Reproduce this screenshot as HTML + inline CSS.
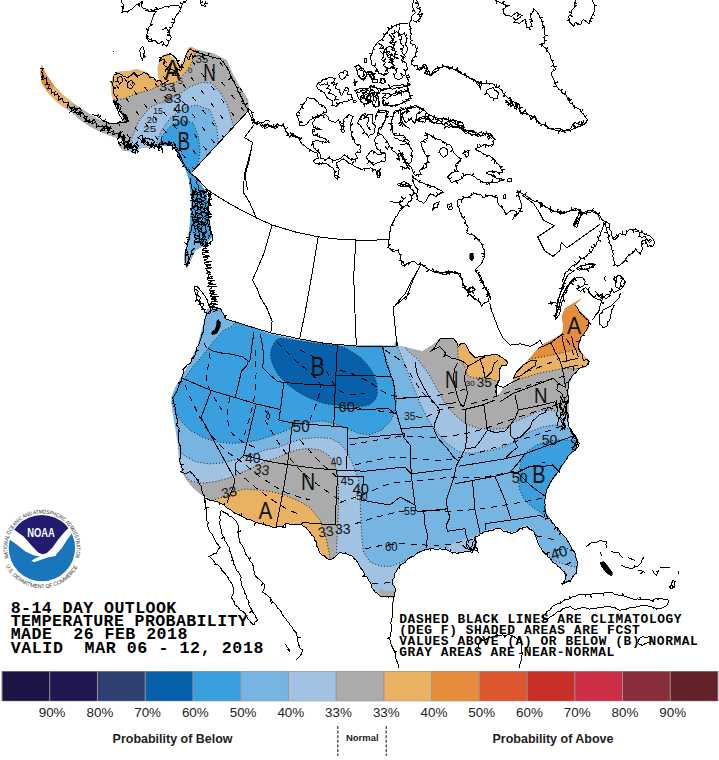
<!DOCTYPE html>
<html lang="en">
<head>
<meta charset="utf-8">
<title>8-14 Day Outlook Temperature Probability</title>
<style>
html,body{margin:0;padding:0;background:#fff;}
body{width:719px;height:760px;overflow:hidden;position:relative;font-family:"Liberation Sans",sans-serif;}
svg{position:absolute;left:0;top:0;display:block;}
.mono{font-family:"Liberation Mono",monospace;font-weight:bold;fill:#000;}
.lbl{font-family:"Liberation Sans",sans-serif;fill:#222;}
.cl{font-family:"Liberation Sans",sans-serif;fill:#111;}
</style>
</head>
<body>
<svg width="719" height="760" viewBox="0 0 719 760">
<rect x="0" y="0" width="719" height="760" fill="#ffffff"/>
<g id="fills">
<defs><clipPath id="cpUS"><path d="M206.2 311.2L203.0 325.0L197.5 345.0L190.0 362.5L182.0 375.0L175.0 387.5L171.2 397.5L171.3 403.0L173.0 415.0L175.8 431.7L178.3 448.0L179.0 461.7L181.7 471.7L186.7 480.0L193.3 488.0L201.7 495.0L213.3 500.8L222.5 503.8L232.5 511.2L245.0 518.0L257.5 523.0L272.5 527.0L281.2 527.0L285.0 523.8L301.2 523.8L307.5 530.0L313.8 537.5L318.0 547.5L322.5 555.0L330.0 559.5L335.0 557.5L340.0 552.5L352.5 556.2L358.0 563.0L363.8 572.5L370.0 582.0L375.0 592.0L380.0 595.8L393.8 597.5L396.2 590.0L393.0 582.0L395.0 573.8L401.2 565.0L410.0 557.5L420.0 552.0L427.5 549.2L440.0 548.0L447.5 550.0L457.5 552.5L466.2 551.2L475.0 550.0L477.0 542.5L475.0 537.0L481.2 532.5L490.0 530.0L497.5 528.0L506.2 530.8L512.5 532.5L517.0 530.8L520.0 528.0L527.5 525.5L532.5 530.0L537.0 537.5L540.0 546.2L545.0 552.5L552.0 560.0L557.5 566.2L565.0 572.0L566.2 578.0L562.0 584.5L570.0 581.2L577.0 572.5L578.0 562.5L575.0 552.5L568.0 541.2L560.0 531.2L552.0 522.0L546.2 512.5L545.0 500.0L547.0 490.0L552.5 480.0L560.0 470.0L568.3 456.7L576.7 448.3L578.6 440.0L569.0 426.7L568.5 415.0L568.3 398.3L568.3 385.0L573.3 375.0L580.0 368.3L586.7 366.7L590.0 361.7L583.3 355.0L578.3 346.7L581.7 336.7L588.3 328.3L589.2 320.0L581.7 313.3L575.0 305.0L581.7 298.3L571.7 304.2L565.0 308.3L561.7 316.7L563.3 325.0L562.5 333.3L555.0 338.3L545.0 343.3L538.3 348.3L528.3 360.0L520.0 368.3L514.2 375.0L512.5 381.7L511.7 384.2L503.3 388.3L500.0 393.3L496.7 396.7L495.8 391.7L496.7 385.0L499.2 380.0L499.2 370.0L501.7 365.8L506.7 365.8L507.5 361.7L503.3 358.3L496.7 354.2L485.0 355.8L475.0 357.5L469.2 351.7L465.8 344.2L460.8 343.3L458.3 345.0L453.3 338.3L440.0 338.3L435.0 343.3L430.0 346.7L422.5 351.2L406.2 347.5L398.0 345.5L396.2 340.0L393.8 345.5L340.0 345.5L300.0 340.0L270.0 333.8L245.0 325.0L226.2 318.8L223.5 313.0L220.5 308.6L207.0 308.4Z"/></clipPath></defs>
<g clip-path="url(#cpUS)">
<rect x="150" y="290" width="460" height="320" fill="#76b5e2"/>
<path d="M165.0 440.0L177.5 446.7L183.3 455.0L195.0 461.7L210.0 464.0L225.0 462.5L238.3 459.0L251.7 455.0L265.0 450.0L278.3 447.5L288.3 443.3L301.7 439.0L316.7 437.5L330.0 438.3L340.0 443.3L346.7 451.7L351.7 461.7L355.0 470.0L358.3 478.3L360.0 493.3L360.5 510.0L361.0 520.0L362.0 540.0L363.5 552.0L370.0 562.0L380.0 566.0L390.0 566.5L401.0 562.5L412.0 556.0L420.0 575.0L400.0 612.0L330.0 600.0L250.0 545.0L180.0 510.0L160.0 470.0Z" fill="#a1c2e3"/>
<path d="M396.0 335.0L397.5 346.7L405.0 365.0L413.3 386.7L420.0 403.3L428.3 420.0L436.7 431.7L446.7 443.3L458.3 451.7L471.7 453.8L482.0 451.5L493.3 450.0L506.7 445.8L518.3 438.3L530.0 431.7L543.3 426.7L555.0 425.0L566.7 428.3L580.0 434.0L600.0 420.0L600.0 330.0Z" fill="#a1c2e3"/>
<path d="M545.0 556.0L552.0 559.5L560.0 563.0L570.0 566.0L582.0 568.0L590.0 590.0L555.0 595.0L540.0 575.0Z" fill="#a1c2e3"/>
<path d="M449.0 546.0L458.0 541.0L468.0 538.0L476.0 536.0L482.0 545.0L478.0 556.0L455.0 558.0L446.0 552.0Z" fill="#a1c2e3"/>
<path d="M236.0 322.0L231.8 326.4L223.4 330.6L212.3 343.0L202.6 355.6L192.8 366.8L185.9 376.5L178.9 386.0L174.2 394.6L171.9 402.0L175.0 411.0L181.7 421.7L190.0 430.0L201.7 436.7L215.0 441.7L231.7 443.3L245.0 442.5L258.3 440.0L271.7 435.8L285.0 431.0L296.7 425.5L308.3 422.5L321.7 420.8L333.3 423.3L346.7 428.3L358.3 433.3L370.0 434.8L381.7 430.0L390.0 421.7L394.8 412.6L396.9 398.0L393.7 385.5L388.5 366.7L382.3 345.9L381.0 335.0L300.0 320.0Z" fill="#3a9fde"/>
<path d="M590.0 442.0L578.0 440.5L566.7 440.0L556.7 440.0L546.7 441.7L536.7 445.0L526.7 451.7L520.8 461.7L518.3 475.0L519.2 488.3L523.3 498.3L530.0 505.0L537.0 510.0L545.0 516.0L556.0 521.0L580.0 500.0L600.0 460.0Z" fill="#3a9fde"/>
<path d="M280.0 338.6C283.8 338.1 290.4 339.7 296.7 340.6C303.0 341.5 310.6 342.9 317.6 343.8C324.6 344.7 333.3 344.9 338.5 345.9C343.7 346.9 345.1 347.9 348.9 350.0C352.7 352.1 357.6 354.9 361.4 358.4C365.2 361.9 369.2 366.4 371.8 370.9C374.4 375.4 376.3 381.0 377.0 385.5C377.7 390.0 377.6 394.7 376.0 398.0C374.4 401.3 371.2 403.9 367.7 405.3C364.2 406.7 359.9 406.3 355.0 406.3C350.1 406.3 343.2 405.8 338.0 405.3C332.8 404.8 328.6 404.4 323.8 403.2C319.0 402.0 314.1 400.2 309.2 398.0C304.3 395.8 299.1 392.8 294.6 389.7C290.1 386.6 285.5 383.0 282.0 379.2C278.5 375.4 275.7 370.9 273.8 366.7C271.9 362.5 270.6 358.0 270.6 354.2C270.6 350.4 272.2 346.4 273.8 343.8C275.4 341.2 276.2 339.1 280.0 338.6Z" fill="#0760a9"/>
<path d="M170.0 470.0L183.3 473.3L190.0 480.8L201.7 483.3L215.0 481.7L228.3 478.3L240.0 473.3L251.7 468.3L265.0 461.7L278.3 457.5L285.0 454.0L296.7 450.0L308.3 448.3L320.0 450.0L328.3 455.0L333.3 461.7L336.7 470.0L338.3 483.3L338.6 500.0L338.0 520.0L337.0 540.0L336.0 562.0L330.0 580.0L250.0 545.0L180.0 505.0L165.0 480.0Z" fill="#ababab"/>
<path d="M403.0 335.0L405.8 349.0L418.3 360.0L428.3 373.3L436.7 388.3L445.0 403.3L455.0 415.0L465.0 423.3L478.3 428.3L493.3 429.2L505.0 428.3L513.3 422.5L526.7 416.7L540.0 410.8L550.0 410.0L558.3 411.7L568.3 415.0L582.0 419.0L600.0 400.0L600.0 330.0Z" fill="#ababab"/>
<path d="M380.0 588.0L384.0 590.5L390.0 591.0L398.0 589.0L400.0 600.0L378.0 600.0Z" fill="#ababab"/>
<path d="M200.0 503.0L213.3 500.0L223.3 496.7L235.0 491.7L245.0 489.0L258.3 490.0L271.7 491.7L285.0 495.0L300.0 501.7L310.0 507.5L320.0 520.0L326.0 537.5L329.0 552.0L331.0 565.0L322.0 575.0L300.0 545.0L250.0 540.0L200.0 512.0Z" fill="#e9b263"/>
<path d="M505.0 385.0L512.5 381.7L525.0 377.5L538.3 373.3L551.7 370.8L563.3 368.3L573.3 369.0L580.0 368.3L597.0 367.0L600.0 290.0L540.0 300.0L505.0 370.0Z" fill="#e9b263"/>
<path d="M520.0 362.0L530.8 359.0L543.3 356.7L556.7 354.0L570.0 350.8L580.0 348.3L597.0 344.0L600.0 290.0L540.0 300.0Z" fill="#e68d3d"/>
<path d="M457.5 338.0L458.0 358.0L463.0 363.0L466.0 370.0L467.0 375.0L473.0 378.0L480.0 377.5L486.0 378.0L493.0 380.0L500.0 382.0L515.0 366.0L512.0 350.0L470.0 336.0Z" fill="#e9b263"/>
</g>
</g>
<g id="fills_ak">
<defs><clipPath id="cpAK"><path d="M41.3 65.0L46.7 75.0L55.0 86.7L63.3 95.0L73.3 103.3L85.0 110.8L96.7 118.3L106.7 122.5L116.7 123.3L123.3 120.8L121.7 115.0L116.7 106.7L114.0 100.8L111.7 95.0L111.3 83.3L113.3 75.0L118.3 71.7L130.0 70.8L136.7 69.0L145.0 71.7L150.0 75.0L155.0 80.0L159.0 81.0L157.5 68.0L160.0 58.0L166.7 53.0L173.0 58.0L180.0 65.0L185.0 58.0L188.0 48.0L191.7 46.7L195.0 49.0L213.3 53.3L226.7 60.0L232.5 73.3L240.0 86.7L248.3 100.0L249.0 108.3L249.0 110.0L191.5 172.5L197.4 179.5L206.6 192.6L209.0 216.0L212.0 237.0L205.0 245.0L195.0 250.5L190.0 262.0L187.0 268.0L184.0 262.0L184.0 256.0L187.0 245.0L189.5 229.5L191.5 200.5L189.0 179.5L186.0 170.0L180.0 160.0L176.0 150.0L170.0 145.0L160.0 146.0L150.0 147.5L140.0 148.3L135.0 151.7L123.3 150.8L118.3 145.8L123.3 141.7L120.0 139.0L110.0 135.8L100.0 131.7L90.0 126.7L80.0 120.0L71.7 112.5L63.3 106.7L58.3 103.3L48.3 93.3L41.7 83.3L40.3 73.3Z"/></clipPath></defs>
<g clip-path="url(#cpAK)">
<rect x="30" y="30" width="230" height="250" fill="#ababab"/>
<path d="M105.0 102.0L108.0 101.0L113.3 100.0L123.3 99.0L133.3 95.0L140.0 92.5L150.0 90.0L156.7 86.7L163.0 85.0L170.0 84.0L176.7 81.7L185.0 73.0L191.7 63.0L195.0 53.0L196.0 44.0L150.0 35.0L100.0 60.0L100.0 100.0Z" fill="#e9b263"/>
<path d="M30.0 50.0L62.0 80.0L44.0 95.0L30.0 95.0Z" fill="#e68d3d"/>
<path d="M62.0 80.0L82.0 98.0L61.5 109.5L44.0 95.0Z" fill="#e9b263"/>
<path d="M128.0 150.0L131.7 138.3L135.0 130.0L138.3 121.7L145.0 113.3L150.0 107.5L158.0 103.5L166.7 101.7L178.0 95.0L190.0 86.7L201.7 82.5L211.7 83.0L220.0 91.7L226.7 103.0L230.8 116.7L233.0 125.0L238.0 131.0L191.0 172.5L230.0 200.0L230.0 280.0L170.0 280.0L175.0 180.0L128.0 165.0Z" fill="#a1c2e3"/>
<path d="M155.0 152.0L157.0 141.0L161.7 130.0L170.0 118.3L183.3 108.3L196.7 105.0L210.0 110.0L216.7 126.7L218.3 141.7L222.0 150.0L191.0 172.5L175.0 172.0L150.0 160.0Z" fill="#76b5e2"/>
<path d="M158.0 152.0L160.0 143.0L162.5 135.5L170.0 126.7L183.3 120.0L193.3 123.3L198.3 136.7L200.0 150.0L199.0 160.0L195.5 169.0L200.0 176.0L215.0 190.0L220.0 240.0L200.0 280.0L175.0 280.0L185.0 200.0L180.0 172.0Z" fill="#3a9fde"/>
<path d="M178.0 228.0L190.0 231.0L198.0 240.0L204.0 248.0L188.0 272.0L178.0 262.0Z" fill="#76b5e2"/>
<path d="M184.0 256.0L190.0 258.0L191.0 270.0L183.0 270.0Z" fill="#ababab"/>
</g></g>
<g id="contours" fill="none" stroke="#1a1a1a">
<g clip-path="url(#cpUS)" stroke-width="1" stroke-dasharray="1 2.1">
<path d="M165.0 440.0L177.5 446.7L183.3 455.0L195.0 461.7L210.0 464.0L225.0 462.5L238.3 459.0L251.7 455.0L265.0 450.0L278.3 447.5L288.3 443.3L301.7 439.0L316.7 437.5L330.0 438.3L340.0 443.3L346.7 451.7L351.7 461.7L355.0 470.0L358.3 478.3L360.0 493.3L360.5 510.0L361.0 520.0L362.0 540.0L363.5 552.0L370.0 562.0L380.0 566.0L390.0 566.5L401.0 562.5L412.0 556.0"/>
<path d="M396.0 335.0L397.5 346.7L405.0 365.0L413.3 386.7L420.0 403.3L428.3 420.0L436.7 431.7L446.7 443.3L458.3 451.7L471.7 453.8L482.0 451.5L493.3 450.0L506.7 445.8L518.3 438.3L530.0 431.7L543.3 426.7L555.0 425.0L566.7 428.3L580.0 434.0"/>
<path d="M236.0 322.0L231.8 326.4L223.4 330.6L212.3 343.0L202.6 355.6L192.8 366.8L185.9 376.5L178.9 386.0L174.2 394.6L171.9 402.0L175.0 411.0L181.7 421.7L190.0 430.0L201.7 436.7L215.0 441.7L231.7 443.3L245.0 442.5L258.3 440.0L271.7 435.8L285.0 431.0L296.7 425.5L308.3 422.5L321.7 420.8L333.3 423.3L346.7 428.3L358.3 433.3L370.0 434.8L381.7 430.0L390.0 421.7L394.8 412.6L396.9 398.0L393.7 385.5L388.5 366.7L382.3 345.9L381.0 335.0"/>
<path d="M590.0 442.0L578.0 440.5L566.7 440.0L556.7 440.0L546.7 441.7L536.7 445.0L526.7 451.7L520.8 461.7L518.3 475.0L519.2 488.3L523.3 498.3L530.0 505.0L537.0 510.0L545.0 516.0L556.0 521.0"/>
<path d="M170.0 470.0L183.3 473.3L190.0 480.8L201.7 483.3L215.0 481.7L228.3 478.3L240.0 473.3L251.7 468.3L265.0 461.7L278.3 457.5L285.0 454.0L296.7 450.0L308.3 448.3L320.0 450.0L328.3 455.0L333.3 461.7L336.7 470.0L338.3 483.3L338.6 500.0L338.0 520.0L337.0 540.0L336.0 562.0"/>
<path d="M200.0 503.0L213.3 500.0L223.3 496.7L235.0 491.7L245.0 489.0L258.3 490.0L271.7 491.7L285.0 495.0L300.0 501.7L310.0 507.5L320.0 520.0L326.0 537.5L329.0 552.0L331.0 565.0"/>
<path d="M403.0 335.0L405.8 349.0L418.3 360.0L428.3 373.3L436.7 388.3L445.0 403.3L455.0 415.0L465.0 423.3L478.3 428.3L493.3 429.2L505.0 428.3L513.3 422.5L526.7 416.7L540.0 410.8L550.0 410.0L558.3 411.7L568.3 415.0L582.0 419.0"/>
<path d="M505.0 385.0L512.5 381.7L525.0 377.5L538.3 373.3L551.7 370.8L563.3 368.3L573.3 369.0L580.0 368.3L597.0 367.0"/>
<path d="M520.0 362.0L530.8 359.0L543.3 356.7L556.7 354.0L570.0 350.8L580.0 348.3L597.0 344.0"/>
<path d="M457.5 338.0L458.0 358.0L463.0 363.0L466.0 370.0L467.0 375.0L473.0 378.0L480.0 377.5L486.0 378.0L493.0 380.0L500.0 382.0"/>
<path d="M545.0 556.0L552.0 559.5L560.0 563.0L570.0 566.0L582.0 568.0"/>
<path d="M280.0 338.6C283.8 338.1 290.4 339.7 296.7 340.6C303.0 341.5 310.6 342.9 317.6 343.8C324.6 344.7 333.3 344.9 338.5 345.9C343.7 346.9 345.1 347.9 348.9 350.0C352.7 352.1 357.6 354.9 361.4 358.4C365.2 361.9 369.2 366.4 371.8 370.9C374.4 375.4 376.3 381.0 377.0 385.5C377.7 390.0 377.6 394.7 376.0 398.0C374.4 401.3 371.2 403.9 367.7 405.3C364.2 406.7 359.9 406.3 355.0 406.3C350.1 406.3 343.2 405.8 338.0 405.3C332.8 404.8 328.6 404.4 323.8 403.2C319.0 402.0 314.1 400.2 309.2 398.0C304.3 395.8 299.1 392.8 294.6 389.7C290.1 386.6 285.5 383.0 282.0 379.2C278.5 375.4 275.7 370.9 273.8 366.7C271.9 362.5 270.6 358.0 270.6 354.2C270.6 350.4 272.2 346.4 273.8 343.8C275.4 341.2 276.2 339.1 280.0 338.6Z"/>
</g>
<g clip-path="url(#cpAK)" stroke-width="1" stroke-dasharray="1 2.1">
<path d="M105.0 102.0L108.0 101.0L113.3 100.0L123.3 99.0L133.3 95.0L140.0 92.5L150.0 90.0L156.7 86.7L163.0 85.0L170.0 84.0L176.7 81.7L185.0 73.0L191.7 63.0L195.0 53.0L196.0 44.0"/>
<path d="M128.0 150.0L131.7 138.3L135.0 130.0L138.3 121.7L145.0 113.3L150.0 107.5L158.0 103.5L166.7 101.7L178.0 95.0L190.0 86.7L201.7 82.5L211.7 83.0L220.0 91.7L226.7 103.0L230.8 116.7L233.0 125.0L238.0 131.0"/>
<path d="M155.0 152.0L157.0 141.0L161.7 130.0L170.0 118.3L183.3 108.3L196.7 105.0L210.0 110.0L216.7 126.7L218.3 141.7L222.0 150.0"/>
<path d="M158.0 152.0L160.0 143.0L162.5 135.5L170.0 126.7L183.3 120.0L193.3 123.3L198.3 136.7L200.0 150.0L199.0 160.0L195.5 169.0"/>
</g>
<g clip-path="url(#cpUS)" stroke="#000" stroke-width="1" stroke-dasharray="6 5.5" shape-rendering="crispEdges">
<path d="M340.0 502.5C344.2 501.0 356.7 496.9 365.0 493.8C373.3 490.6 381.7 485.8 390.0 483.8C398.3 481.7 405.0 482.3 415.0 481.2C425.0 480.2 439.2 478.1 450.0 477.5C460.8 476.9 468.3 478.8 480.0 477.5C491.7 476.2 509.2 472.6 520.0 470.0C530.8 467.4 540.8 463.3 545.0 462.0"/>
<path d="M355.0 523.8C359.2 522.5 372.1 518.3 380.0 516.2C387.9 514.2 395.4 512.3 402.5 511.2C409.6 510.2 414.6 510.0 422.5 510.0C430.4 510.0 440.4 511.5 450.0 511.2C459.6 511.0 468.3 510.2 480.0 508.8C491.7 507.3 508.7 504.5 520.0 502.5C531.3 500.5 543.3 497.9 548.0 497.0"/>
<path d="M365.0 548.8C368.3 548.1 378.3 545.8 385.0 545.0C391.7 544.2 398.3 543.8 405.0 543.8C411.7 543.8 418.3 544.8 425.0 545.0C431.7 545.2 437.5 545.8 445.0 545.0C452.5 544.2 460.8 541.5 470.0 540.0C479.2 538.5 490.0 536.8 500.0 536.0C510.0 535.2 520.8 534.3 530.0 535.0C539.2 535.7 550.8 539.2 555.0 540.0"/>
<path d="M372.5 583.8L393.8 582.5"/>
<path d="M355.0 407.5C360.8 408.3 382.9 411.5 390.0 412.5C397.1 413.5 396.2 413.5 397.5 413.8"/>
<path d="M416.0 416.5C417.5 416.7 421.0 418.6 425.0 417.5C429.0 416.4 433.3 412.1 440.0 410.0C446.7 407.9 457.5 406.7 465.0 405.0C472.5 403.3 476.7 402.5 485.0 400.0C493.3 397.5 505.8 393.0 515.0 390.0C524.2 387.0 531.7 384.3 540.0 382.0C548.3 379.7 560.8 377.0 565.0 376.0"/>
<path d="M350.0 445.0C354.6 444.2 368.3 441.5 377.5 440.0C386.7 438.5 395.8 436.7 405.0 436.2C414.2 435.8 423.8 437.7 432.5 437.5C441.2 437.3 449.6 436.2 457.5 435.0C465.4 433.8 471.2 432.5 480.0 430.0C488.8 427.5 500.0 423.3 510.0 420.0C520.0 416.7 530.7 413.0 540.0 410.0C549.3 407.0 561.7 403.3 566.0 402.0"/>
<path d="M355.0 465.0C360.8 463.8 380.0 458.5 390.0 457.5C400.0 456.5 405.8 458.3 415.0 458.8C424.2 459.2 435.8 460.6 445.0 460.0C454.2 459.4 461.7 457.1 470.0 455.0C478.3 452.9 486.7 450.0 495.0 447.5C503.3 445.0 511.7 442.6 520.0 440.0C528.3 437.4 537.0 434.7 545.0 432.0C553.0 429.3 564.2 425.3 568.0 424.0"/>
<path d="M385.0 350.0C387.9 352.1 397.9 357.9 402.5 362.5C407.1 367.1 409.2 372.5 412.5 377.5C415.8 382.5 418.6 387.9 422.5 392.5C426.4 397.1 433.8 402.9 436.0 405.0"/>
<path d="M340.0 370.0C342.5 370.8 350.0 372.9 355.0 375.0C360.0 377.1 364.2 379.2 370.0 382.5C375.8 385.8 382.5 392.5 390.0 395.0C397.5 397.5 406.7 397.5 415.0 397.5C423.3 397.5 430.8 396.6 440.0 395.0C449.2 393.4 465.0 389.2 470.0 388.0"/>
<path d="M300.0 350.0C303.3 352.0 313.3 355.2 320.0 362.0C326.7 368.8 332.5 385.7 340.0 391.0C347.5 396.3 360.8 393.3 365.0 393.8"/>
<path d="M203.8 342.5C204.8 345.0 209.6 352.1 210.0 357.5C210.4 362.9 206.0 369.6 206.0 375.0C206.0 380.4 207.3 384.2 210.0 390.0C212.7 395.8 220.0 406.7 222.0 410.0"/>
<path d="M185.0 385.0C186.7 388.8 191.2 400.0 195.0 407.5C198.8 415.0 202.5 422.9 207.5 430.0C212.5 437.1 219.2 444.6 225.0 450.0C230.8 455.4 236.3 457.8 242.5 462.5C248.7 467.2 254.9 473.1 262.0 478.0C269.1 482.9 277.0 488.3 285.0 492.0C293.0 495.7 305.8 498.7 310.0 500.0"/>
<path d="M230.0 397.5C229.6 400.0 227.5 407.1 227.5 412.5C227.5 417.9 227.9 425.4 230.0 430.0C232.1 434.6 235.7 437.0 240.0 440.0C244.3 443.0 253.3 446.7 256.0 448.0"/>
<path d="M255.0 350.0C255.2 354.2 256.2 366.7 256.0 375.0C255.8 383.3 255.2 391.7 253.8 400.0C252.3 408.3 249.4 418.3 247.5 425.0C245.6 431.7 243.3 437.5 242.5 440.0"/>
<path d="M277.5 342.5C280.4 345.4 289.6 355.0 295.0 360.0C300.4 365.0 305.8 368.3 310.0 372.5C314.2 376.7 318.8 380.4 320.0 385.0C321.2 389.6 319.2 394.2 317.5 400.0C315.8 405.8 311.2 416.7 310.0 420.0"/>
<path d="M265.0 420.0C267.5 424.2 274.2 436.7 280.0 445.0C285.8 453.3 292.5 462.5 300.0 470.0C307.5 477.5 318.3 485.0 325.0 490.0C331.7 495.0 337.5 498.3 340.0 500.0"/>
<path d="M236.0 470.0C239.2 472.8 247.7 481.2 255.0 487.0C262.3 492.8 272.5 500.3 280.0 505.0C287.5 509.7 296.7 513.3 300.0 515.0"/>
<path d="M300.0 440.0C303.3 443.7 313.7 455.7 320.0 462.0C326.3 468.3 335.0 475.3 338.0 478.0"/>
<path d="M560.0 330.0C561.7 332.5 567.5 340.0 570.0 345.0C572.5 350.0 574.2 357.5 575.0 360.0"/>
<path d="M525.0 372.0C528.3 370.8 539.2 367.3 545.0 365.0C550.8 362.7 557.5 359.2 560.0 358.0"/>
<path d="M535.0 560.0C537.5 558.7 544.5 554.0 550.0 552.0C555.5 550.0 565.0 548.7 568.0 548.0"/>
<path d="M545.0 575.0C547.5 573.8 555.0 570.5 560.0 568.0C565.0 565.5 572.5 561.3 575.0 560.0"/>
</g>
<g clip-path="url(#cpAK)" stroke="#000" stroke-width="1" stroke-dasharray="5 11" shape-rendering="crispEdges">
<path d="M27.5 40 L142.5 190" stroke-dashoffset="11"/>
<path d="M41.0 40 L156.0 190" stroke-dashoffset="4"/>
<path d="M54.5 40 L169.5 190" stroke-dashoffset="9"/>
<path d="M68.0 40 L183.0 190" stroke-dashoffset="2"/>
<path d="M81.5 40 L196.5 190" stroke-dashoffset="7"/>
<path d="M95.0 40 L210.0 190" stroke-dashoffset="0"/>
<path d="M108.5 40 L223.5 190" stroke-dashoffset="5"/>
<path d="M122.0 40 L237.0 190" stroke-dashoffset="10"/>
<path d="M135.5 40 L250.5 190" stroke-dashoffset="3"/>
<path d="M149.0 40 L264.0 190" stroke-dashoffset="8"/>
<path d="M162.5 40 L277.5 190" stroke-dashoffset="1"/>
<path d="M176.0 40 L291.0 190" stroke-dashoffset="6"/>
<path d="M189.5 40 L304.5 190" stroke-dashoffset="11"/>
<path d="M203.0 40 L318.0 190" stroke-dashoffset="4"/>
<path d="M216.5 40 L331.5 190" stroke-dashoffset="9"/>
<path d="M230.0 40 L345.0 190" stroke-dashoffset="2"/>
<path d="M243.5 40 L358.5 190" stroke-dashoffset="7"/>
</g>
</g>
<g id="borders" fill="none" stroke="#000" stroke-width="1" stroke-linejoin="round" shape-rendering="crispEdges">
<path d="M522.4 195.1L533.5 203.4L539.1 211.8L543.3 220.1L554.4 225.7L537.7 236.8L544.6 250.7L553.0 256.3L559.9 250.7L561.3 242.4L566.9 248.0L600.0 224.3M420.9 264.6L412.5 281.3L405.6 300.0M256.3 217.9L272.1 225.0L295.8 232.1L318.2 236.8L335.3 238.9L356.3 240.0L377.4 240.0L389.2 239.5M251.1 150.0L244.5 173.7L243.2 192.1L249.7 202.6L256.3 217.9M272.1 225.0L264.2 252.6L257.6 268.4L252.4 280.3L257.6 289.5L260.3 297.4L266.8 307.9L272.1 321.1L270.8 332.9M318.2 236.8L311.6 276.3L305.0 313.2L299.7 338.2M355.8 240.0L353.7 276.3L355.0 313.2L356.3 345.3M410.0 293.4L393.2 307.4L395.3 328.9L397.1 346.1M188.9 172.4L196.3 177.6L207.9 190.3L224.7 200.8L239.5 209.2L250.0 214.5M250.0 214.5L256.3 217.9M249.0 110.0L191.5 172.5M253.8 125.0L244.5 137.5L252.5 142.5L248.8 162.5L245.0 175.0L247.5 189.8M226.0 319.0L245.0 325.0L270.8 332.9L299.7 338.9L324.7 343.4L356.3 346.0L396.0 346.0L396.5 340.5L398.0 345.5M208.0 348.7L212.3 350.8L220.6 352.9L231.8 354.2L242.9 357.0L248.4 361.2M254.0 332.0L251.9 345.9L249.8 361.9M248.4 361.2L247.0 365.4L241.5 371.0L238.7 383.4L235.2 397.4M181.7 378.0L211.2 390.5L235.0 397.5L256.2 404.0L280.5 409.5M260.0 333.8L262.5 345.0L263.8 357.5L262.5 367.5L270.0 375.0L277.5 381.2L283.8 382.5M283.8 382.5L310.0 384.5L335.0 385.5M283.8 382.5L280.5 409.5L278.8 420.0L292.5 423.0L333.8 426.2L347.5 427.5M211.2 390.5L201.2 417.5L232.5 475.0L235.0 480.0L233.0 488.0L229.0 497.0L227.0 503.0M256.2 404.0L243.8 455.0L236.0 463.0L235.0 475.0M243.8 455.0L267.5 461.2L287.5 464.5L312.5 468.0L336.2 470.0L365.0 471.2L404.8 467.0L411.2 473.8M292.5 423.0L287.5 464.5L283.8 487.5L276.2 526.2M347.5 427.5L346.8 468.8M337.4 344.8L335.3 385.5L333.8 426.2M334.3 375.0L360.0 375.8L391.2 376.2M334.3 407.4L363.5 409.5L388.5 408.5L394.8 413.7L396.2 412.5M349.2 438.8L380.0 436.0L404.8 433.8L403.8 437.5M336.2 470.0L337.5 476.2L363.8 477.0L361.2 500.0L375.0 502.5L390.0 505.0L400.0 497.0L415.0 505.0M337.5 476.2L335.0 525.0L302.5 522.5L301.2 525.0L286.2 523.8L285.0 527.5L276.2 526.2M382.5 346.2L386.2 362.5L391.2 376.2L393.8 382.5L395.0 400.0L396.2 412.5L400.0 425.0L403.8 437.5L410.0 445.0L411.2 473.8L415.0 505.0L416.0 511.0L423.8 511.2M396.2 398.8L428.8 396.2M400.0 428.8L432.5 426.2M411.2 473.8L452.5 468.8M423.8 511.2L447.5 508.8M423.8 511.2L425.0 525.0L427.5 535.0L426.2 547.5M415.0 362.5L417.5 375.0L422.5 385.0L428.8 396.2L440.0 410.0L435.0 422.5L433.8 428.8L437.5 437.5L447.5 448.8L453.8 457.5L458.8 461.2L456.2 466.2L453.8 477.5L450.0 488.8L446.2 500.0L447.5 510.0L450.0 517.5L446.2 525.0L447.5 531.2L465.0 528.8L466.2 536.2L468.8 542.5M438.8 405.0L456.2 402.5M465.0 410.0L467.0 437.5L465.0 448.8M462.5 410.0L482.5 405.0L495.0 400.0M483.8 405.0L487.5 430.0M456.2 466.2L465.0 448.8L475.0 447.5L480.0 441.2L487.5 430.0L495.0 432.5L505.0 431.2L510.0 425.0L515.0 418.8L518.3 410.0L515.0 395.0M458.8 466.2L505.0 458.8L525.0 453.8L572.5 436.2M505.0 458.8L511.0 452.5L517.5 447.5L513.8 438.8L510.0 435.0L510.0 425.0M513.8 438.8L520.0 437.5L530.0 427.5L532.5 421.2L538.8 415.0L545.0 412.5L548.0 407.0L553.0 409.0M455.0 483.8L472.5 480.5L495.0 476.2L510.0 472.5L517.5 463.8L525.0 453.8M472.5 480.5L475.0 510.0L480.0 532.5M495.0 476.2L505.0 500.0L508.8 512.5L511.2 520.0M510.0 472.5L517.5 472.5L530.0 485.0L540.0 492.5L545.0 496.2M517.5 472.5L530.0 466.2L545.0 466.2L552.5 465.0L560.0 472.5M485.0 523.8L511.2 520.0L540.0 515.5L543.8 517.5L545.0 513.8M485.0 523.8L486.0 530.0M500.0 401.7L513.3 393.3L553.3 378.3L558.3 383.3L556.7 390.0L561.7 393.3L563.3 398.3M518.3 410.0L540.0 405.5L555.0 401.7L557.0 408.0M558.3 383.3L565.8 387.5L564.0 378.3L562.5 368.3L559.0 358.3L555.0 351.7L550.8 342.5M538.3 348.3L550.0 343.3L562.5 334.0M561.7 334.0L563.3 343.3L565.8 353.3L566.7 361.7M571.7 335.8L573.3 345.0L576.7 351.7L578.3 356.7M562.5 361.7L578.3 358.3M563.3 368.3L578.3 365.0M573.0 366.0L574.0 371.0M430.0 351.7L434.2 348.3L437.5 342.5L440.8 338.3L453.3 338.3L456.7 342.5L458.3 346.7L460.8 343.3L465.8 344.2L469.2 351.7L475.0 357.5L485.0 355.8L496.7 354.2L503.3 358.3L507.5 361.7L506.7 365.8L501.7 365.8L499.2 370.0L499.2 380.0L496.7 385.0L495.8 391.7L496.7 396.7L495.8 385.0L503.3 387.5L513.3 381.7L520.0 378.3M430.0 351.7L433.3 350.0L440.0 346.7L445.8 353.3L443.3 356.7L446.7 355.0L451.7 358.3L457.5 359.2L463.3 361.7L468.3 365.8L465.8 371.7L464.2 378.3L465.8 385.0L467.5 393.3L465.8 400.0L463.3 406.7L460.0 403.3L457.5 396.7L455.0 386.7L453.3 376.7L455.0 368.3L457.5 363.3M468.3 365.8L473.3 363.3L480.0 359.2L485.0 356.7M480.0 359.2L483.3 368.3L485.0 378.3L491.7 371.7L494.2 363.3L498.3 360.0M513.3 378.3L516.7 371.7L523.3 365.0L530.0 360.8L536.7 360.0L535.0 365.8L528.3 370.0L520.8 375.8ZM489.6 302.5L491.4 310.1L495.2 320.1L498.9 330.1L502.7 337.6L510.2 345.1L520.2 343.9L530.2 346.4L535.2 343.9L540.2 340.1L542.7 345.1M417.5 270.0L405.0 293.8L395.0 305.1"/>
</g>
<g id="coast" fill="none" stroke="#000" stroke-width="1" stroke-linejoin="miter" shape-rendering="crispEdges">
<path d="M296.0 114.7L297.9 112.0L300.0 113.6L298.3 111.5L300.3 109.6L301.6 107.3L303.4 108.8L301.9 106.8L302.7 104.9L300.4 104.4L303.0 104.4L304.4 102.9L306.2 101.0L307.1 97.3L310.4 98.6L313.9 98.5L315.8 100.3L317.9 102.0L319.1 104.4L321.7 105.0L322.0 106.6L322.3 105.2L324.2 106.2L325.9 108.9L326.8 112.1L323.7 113.2L323.7 110.6L323.1 113.5L320.8 114.7L318.4 116.0L315.6 116.4L313.1 118.2L312.2 115.9L312.6 118.5L310.5 119.8L308.4 121.7L307.1 124.1L304.6 125.1L302.0 125.2L299.4 125.8L299.3 122.3L302.7 122.1L299.3 121.8L298.5 119.0L297.6 116.6L299.4 115.1L297.3 116.1ZM312.2 123.2L314.3 120.5L315.6 117.3L318.2 117.1L317.5 114.4L318.7 116.9L320.3 115.7L322.9 115.8L324.2 118.2L323.5 115.6L325.0 114.4L328.5 117.3L329.0 120.2L332.1 121.5L335.3 122.4L338.7 119.8L339.5 123.0L341.0 121.2L339.8 123.6L341.3 125.8L341.8 129.2L340.4 130.0L341.8 129.8L342.1 132.6L344.4 131.8L343.7 129.3L341.6 130.3L343.6 128.7L344.1 126.7L340.9 125.9L344.0 126.1L343.7 124.1L341.7 123.1L343.7 123.5L343.4 121.6L345.1 121.5L343.4 121.0L343.8 119.0L346.5 116.9L347.0 118.1L347.0 116.6L349.0 114.7L353.2 116.4L351.9 119.4L350.7 122.4L350.6 125.0L353.0 123.7L350.6 125.6L350.4 127.6L350.6 130.1L351.5 132.6L352.9 131.5L351.6 133.2L351.5 135.2L353.0 137.2L351.2 136.8L353.3 137.8L354.0 139.5L352.3 138.9L354.2 140.1L354.1 142.1L356.1 144.0L359.0 144.4L357.2 145.6L359.5 144.7L360.9 146.3L360.0 149.2L360.1 152.3L357.5 152.8L357.7 151.4L356.9 152.9L355.0 153.2L356.6 155.6L357.5 158.3L355.0 159.1L356.2 162.3L354.4 159.2L352.4 158.8L351.8 161.2L351.8 158.9L349.8 159.1L347.3 156.8L348.0 154.8L346.8 156.4L344.4 154.9L342.4 156.5L340.4 158.3L336.2 160.0L333.6 160.0L332.4 162.9L333.0 159.9L331.1 158.9L328.5 158.8L329.9 156.6L327.9 158.7L325.8 159.6L324.5 161.2L325.2 159.5L323.3 158.7L320.8 158.3L320.7 155.1L319.1 152.3L316.9 150.8L318.6 149.9L316.5 150.4L315.2 148.7L313.1 147.2L313.2 144.1L310.7 145.5L313.1 143.5L312.2 141.2L314.8 141.0L317.4 140.3L319.8 141.3L322.5 141.3L322.6 144.4L323.1 141.5L324.9 142.6L325.8 140.7L325.5 142.7L327.7 141.9L328.7 140.5L328.3 142.0L330.2 142.9L327.3 141.7L325.5 138.8L322.5 137.8L320.1 137.4L319.4 135.6L319.5 137.2L317.8 136.3L317.8 132.9L317.3 136.1L315.6 135.4L316.6 133.8L315.0 135.2L313.1 135.2L312.8 132.2L314.7 130.9L312.7 131.6L312.2 129.2L315.4 129.0L315.2 126.5L316.0 129.0L318.5 129.9L317.3 127.5L319.1 129.9L321.6 129.2L319.0 128.8L319.5 130.1L318.5 128.6L316.5 128.1L313.9 127.5ZM290.0 131.8L291.2 134.0L293.6 133.4L291.5 134.5L292.6 136.1L295.2 135.9L297.7 136.9L299.5 139.0L302.0 137.6L299.8 139.5L300.2 141.7L302.0 143.8L304.6 145.8L307.1 148.0L310.1 149.8L308.8 152.2L310.6 150.0L313.1 151.5L317.4 153.2L317.8 155.7L318.2 158.3L315.5 159.3L313.1 160.9L315.6 163.4L318.6 164.3L319.6 162.0L319.2 164.4L321.7 163.3L320.9 165.4L322.3 163.3L324.7 163.4L327.6 164.3L329.9 166.4L332.7 167.7L334.0 170.1L334.0 172.9L336.8 171.3L334.2 173.5L334.3 175.6L336.8 175.7L334.5 176.2L335.8 177.9L337.9 179.7L337.7 177.0L339.9 178.1L337.7 176.4L338.3 174.5L338.1 171.9L339.2 169.4L338.1 167.2L336.3 167.9L337.9 166.6L336.5 165.1L336.2 162.6L338.9 161.7L341.3 160.0L344.0 159.8L343.6 158.4L344.5 159.9L346.4 160.9L349.0 163.4L352.3 164.6L353.3 161.5L352.8 164.9L355.0 166.8L357.4 167.2L359.5 168.7L361.8 169.4L364.5 168.2L364.0 171.1L365.1 168.1L367.6 168.9L370.3 167.7L372.8 169.0L372.6 172.2L373.3 169.2L375.5 169.4L376.4 172.2L378.6 171.0L376.6 172.8L377.7 174.9L375.9 174.6L377.9 175.5L378.0 177.9L379.7 177.9L379.2 175.3L381.2 174.9L379.3 174.7L379.8 172.8L381.3 174.1L379.9 172.2L380.0 170.2L377.1 170.7L380.0 169.6L380.6 167.7M366.1 157.4L368.0 155.1L369.6 152.5L372.1 150.6L374.4 151.9L372.8 154.5L374.9 152.2L376.5 153.7L378.9 154.9L382.2 153.8L385.7 153.2L385.4 155.7L385.9 158.3L384.6 157.3L385.9 158.9L385.7 160.9L382.2 161.3L381.0 160.0L381.6 161.5L378.9 162.6L376.1 163.3L373.8 165.1L371.6 163.5L373.5 162.7L371.2 163.0L369.9 161.3L367.4 163.6L369.4 160.9L367.7 159.6ZM357.5 123.2L358.4 120.8L359.4 121.4L358.7 120.3L359.8 118.7L361.6 120.2L360.1 118.2L360.9 116.4L362.7 114.6L363.0 115.9L363.3 114.3L365.2 113.8L364.8 116.5L363.5 119.0L366.1 116.9L368.6 114.7L372.9 114.7L372.2 118.1L372.1 121.5L373.3 124.1L374.3 122.2L373.7 124.5L375.5 125.8L374.7 128.8L374.6 131.8L373.1 134.1L370.2 134.7L368.6 136.9L367.2 134.4L364.8 132.7L362.5 133.5L364.4 132.2L363.5 130.1L361.9 127.5L360.0 125.1ZM375.5 118.1L376.6 115.2L377.8 115.9L376.8 114.6L377.2 112.1L380.0 110.7L383.2 110.4L386.0 110.9L388.8 111.3L387.6 113.5L386.8 115.8L389.5 117.1L386.5 116.4L385.7 118.1L384.4 121.1L383.2 124.1L381.5 126.7L378.9 128.4L378.0 132.6L377.3 135.4L379.2 135.5L377.0 135.9L375.4 137.6L374.6 140.3L375.5 143.2L377.8 143.2L375.7 143.8L376.1 146.1L377.2 148.9L379.8 150.5L380.7 149.0L380.2 151.0L381.5 153.2L384.9 152.3M378.0 132.6L380.1 134.0L379.8 135.4L380.6 134.3L382.3 135.2L383.8 137.5L385.7 139.5L387.7 142.3L385.3 142.6L388.0 142.8L389.1 145.5L387.4 148.9L384.9 146.3M410.0 108.7L407.3 108.3L408.7 111.6L406.7 108.4L404.7 109.2L402.0 108.6L400.8 106.9L401.4 108.7L399.4 109.6L396.6 111.7L393.4 113.0L393.4 116.0L390.0 116.1L393.3 116.5L392.3 118.7L391.7 121.5L391.6 124.1L388.3 123.3L391.6 124.7L392.9 126.6L390.7 125.9L393.0 127.2L392.6 129.2L389.6 130.1L392.6 129.8L392.6 131.8L393.8 134.3L397.0 133.0L394.2 134.7L396.0 136.1L399.4 135.3L399.3 133.2L400.0 135.2L402.8 135.2L404.7 136.8L402.7 137.4L405.1 137.2L405.9 139.0L403.2 140.9L406.3 139.4L407.9 140.3L410.0 142.1M410.0 111.3L407.3 111.7L406.7 113.8L406.7 111.8L404.5 112.1L402.8 114.0L402.0 116.4L401.7 119.9L402.8 123.2L404.5 125.0L406.2 126.7L410.0 128.4M394.3 137.8L397.2 138.4L399.4 140.3L402.8 141.1L406.2 142.1L408.0 143.9L408.2 142.4L408.4 144.3L410.0 145.5M389.1 145.5L390.9 148.0L393.1 147.9L391.2 148.5L392.6 150.6L394.9 152.0L396.8 154.0L398.0 156.2L398.7 158.5L397.6 160.0L398.9 159.1L399.4 160.9L399.1 158.3L396.0 158.8L399.0 157.7L398.3 155.8L399.8 156.6L398.2 155.2L398.5 153.2L400.9 154.1L402.7 152.3L401.4 154.4L402.8 155.7L404.1 158.5L401.8 159.0L404.3 159.1L405.8 161.2L402.7 162.4L406.0 161.7L406.2 164.3L408.0 167.0L410.0 169.4M316.5 85.6L318.2 83.3L319.3 84.7L318.6 82.9L321.0 82.2L322.5 79.7L325.5 79.4L326.0 77.9L326.1 79.2L328.2 77.9L331.0 77.1L335.3 78.8L333.7 81.5L335.4 84.4L333.3 81.9L331.0 83.1L333.9 84.3L333.8 85.7L334.5 84.3L337.0 83.9L335.3 88.2L339.6 89.9L340.1 93.0L341.3 95.9L343.0 93.2L344.5 90.4L347.0 90.9L344.8 89.9L345.6 87.4L348.1 88.2L348.1 91.3L347.3 94.2L351.5 95.0L352.4 99.3L349.3 100.4L348.4 99.2L348.8 100.6L346.4 101.9L343.0 102.0L342.9 103.4L342.4 102.1L339.6 102.7L338.0 104.6L336.5 102.5L337.6 105.0L336.2 106.2L331.9 105.3L332.7 101.0L329.7 99.4L326.8 97.6L325.7 94.9L324.2 92.5L321.2 90.8L319.9 92.1L320.7 90.5L318.2 89.1ZM319.9 85.6L324.2 83.9L326.8 84.5L327.4 82.3L327.4 84.7L329.3 85.6L326.8 88.2L331.0 89.9L328.5 93.3L332.7 94.2L336.2 96.8L334.4 100.2L338.7 99.3M338.7 74.5L340.5 72.8L343.1 72.2L343.7 73.4L343.6 71.9L344.7 70.3L348.1 72.0L346.6 74.4L349.2 75.7L346.3 74.9L345.6 77.1L343.7 78.8L341.3 79.7L339.7 77.2ZM355.0 66.8L358.4 65.1L360.4 67.1L358.8 69.7L360.8 67.6L361.8 69.7L360.7 71.0L362.2 70.2L363.5 72.0L364.1 74.9L362.8 76.8L364.4 75.4L366.1 77.1L361.8 78.8L359.2 76.6L359.6 75.0L358.8 76.1L357.5 73.7L357.2 71.2L356.6 68.8ZM367.8 72.0L371.2 72.8L373.1 75.7L375.4 73.1L373.4 76.2L374.6 78.8L370.3 77.9L369.3 74.9L371.5 74.8L369.1 74.3ZM354.1 79.7L355.7 82.4L357.4 81.0L355.9 83.0L355.8 85.6L354.6 85.6L355.1 82.6L353.1 82.0L355.0 82.0ZM353.6 100.7L355.0 99.8L356.3 101.0L355.6 102.7L353.9 102.4ZM355.0 90.8L358.4 89.1L361.8 88.5L363.1 90.6L362.4 88.5L365.2 88.2L367.7 89.5L365.5 91.9L368.1 89.9L369.5 91.6L369.3 94.2L370.8 96.7L372.1 95.9L370.9 97.3L370.3 99.3L368.3 101.2L366.9 103.6L364.3 103.4L364.3 106.8L363.7 103.3L361.8 102.7L360.4 100.4L361.4 98.8L360.0 99.9L358.4 98.5L357.8 95.6L356.7 93.0L357.9 91.3L356.5 92.5ZM357.5 92.5L361.8 91.6L365.2 94.2L363.5 98.5L360.1 96.8L363.5 95.0L364.1 97.9L362.6 98.7L364.4 98.5L366.1 100.2L367.8 95.9M370.3 85.6L372.7 87.1L374.4 84.6L373.3 87.3L375.5 87.4L378.0 88.2L380.6 88.2L380.4 90.8L382.6 90.1L380.3 91.4L379.7 93.3L375.5 92.5L377.0 94.5L378.1 96.9L379.1 95.9L378.4 97.4L378.9 99.3L378.6 102.4L379.7 105.3L375.5 107.0L374.3 104.7L375.3 103.8L373.9 104.3L372.1 103.6L373.2 100.3L375.0 100.4L373.4 99.7L373.8 96.8L372.3 93.6L370.3 90.8L370.9 88.2ZM380.6 90.8L382.9 88.9L385.7 88.2L389.2 88.3L392.6 89.1L395.4 88.3L398.2 87.4L399.4 89.0L398.8 87.3L401.1 87.4L404.1 86.9L403.7 84.9L404.7 86.8L407.0 85.8L410.0 85.6M381.5 94.2L385.7 93.3L389.1 94.0L392.6 94.2L395.8 92.7L396.1 89.6L396.4 92.6L399.4 92.5L402.2 91.5L403.5 92.8L402.8 91.4L405.1 92.0L407.9 91.6L410.0 93.3M382.3 100.2L382.9 102.7L383.2 105.3L386.3 105.5L385.6 102.5L386.9 105.6L389.4 106.0L392.6 106.2L395.3 104.9L395.2 106.5L395.9 104.7L398.3 104.6L401.1 103.6L403.9 102.0L402.5 100.5L404.5 101.8L406.9 101.0L404.9 98.7L407.5 100.8L410.0 100.2M380.6 78.8L384.0 77.9L385.7 82.2L382.3 83.9L380.8 81.6L378.9 83.3L380.7 81.0ZM407.9 23.9L404.4 24.0L401.0 23.1L398.8 24.1L399.9 25.7L398.2 24.3L396.4 24.7L396.1 27.1L395.9 24.9L394.2 25.6L392.3 27.5L391.4 24.6L391.9 27.9L389.8 28.6L387.1 26.9L389.3 29.0L388.2 30.8L386.8 32.8L387.6 33.8L386.5 33.3L384.8 34.4L382.7 32.9L384.5 34.9L383.9 36.8L381.7 39.3L384.0 40.5L381.3 39.7L378.8 41.0L377.1 43.2L375.4 45.3L373.4 48.0L374.3 49.6L373.2 48.5L372.8 51.3L372.0 53.6L368.6 53.3L371.8 54.1L370.9 55.8L370.3 58.1L371.6 61.4L372.0 65.0L374.4 66.3L375.7 63.5L374.8 66.7L376.2 68.4L377.9 70.7L375.4 71.0L378.2 71.3L378.8 73.5L381.5 74.0L383.9 75.2L386.4 74.5L384.2 73.0L386.9 74.2L388.2 72.6L387.4 69.8L385.0 70.7L387.1 69.3L385.6 67.5L389.9 68.4L391.9 66.8L393.5 68.8L392.4 66.5L394.2 65.8L392.8 63.3L391.7 63.9L392.6 62.7L391.6 60.7L395.0 58.1L393.0 56.2L391.6 53.8L387.4 55.6L386.0 53.1L387.8 52.9L385.6 52.7L383.9 51.3L385.6 48.7L386.7 49.7L386.1 48.3L388.2 47.0L390.9 46.7L393.3 47.9L394.0 44.6L395.9 41.9L391.6 42.7L393.3 39.9L392.0 39.7L393.6 39.4L394.2 36.8L391.6 33.3L394.4 33.2L394.0 30.1L395.0 33.0L396.8 31.6L399.0 33.8L398.1 37.2L399.5 34.1L401.9 35.0L404.4 32.5L405.1 35.7L407.4 33.6L405.4 36.3L407.0 38.5L406.4 41.5L405.3 44.4L407.1 46.8L407.9 49.6L406.5 52.3L404.4 54.7L403.2 57.6L400.8 55.3L402.9 58.1L401.0 59.8L403.6 61.5L402.2 62.2L404.1 61.9L406.2 63.2L406.3 66.0L407.9 68.4L406.0 70.7L403.4 69.4L405.7 71.2L405.3 73.5L406.2 75.9L409.1 74.7L406.5 76.4L407.0 78.3L409.9 76.6L407.3 78.9L408.7 80.3L407.4 83.6L410.8 84.1L407.3 84.2L407.0 87.2L407.9 90.3L408.9 88.7L408.1 90.9L409.6 93.2L409.9 95.9L412.5 95.3L410.1 96.5L411.3 98.3L408.6 99.3L408.8 97.9L408.1 99.6L406.2 100.9L403.8 101.8L405.6 103.5L403.3 102.1L401.8 103.5L399.3 104.3L396.6 105.6L396.6 103.6L396.0 105.7L393.7 105.8L390.8 106.0L387.4 105.0L388.9 102.7L386.8 104.8L383.9 104.3L383.8 100.7L385.2 100.0L383.6 100.1L382.2 97.4L384.8 95.7L386.5 93.2L389.4 93.9L389.9 92.7L390.0 94.0L392.3 94.6L395.0 95.7L397.6 94.2L400.4 93.2L402.0 96.0L400.9 92.9L402.7 91.5L405.7 90.9L404.4 89.7L406.3 90.8L408.7 90.6M377.1 42.7L379.6 44.1L382.2 45.3L379.7 48.7L382.7 48.6L383.4 46.1L383.3 48.7L385.6 49.6L387.5 51.3L385.6 52.3L388.0 51.6L389.9 52.1L388.1 54.0L387.4 56.4L389.8 58.0L391.1 55.2L390.3 58.3L392.5 59.0L390.5 60.4L389.8 58.8L390.1 60.8L389.1 62.4L391.6 63.0L393.8 61.0L392.1 63.4L393.3 65.0L394.2 67.4L392.3 69.1L394.4 67.9L395.6 69.5L397.6 67.8L395.8 70.1L396.8 71.8L394.9 74.1L393.1 73.8L394.7 74.6L394.2 76.9L396.0 78.8L398.5 79.5L402.7 77.8L401.0 73.5L404.8 76.1M382.2 90.6L384.7 89.5L387.4 88.9L389.5 87.5L388.5 84.4L390.0 87.2L392.0 86.8L394.2 85.5L397.0 85.1L399.9 85.2L402.7 84.6L406.2 85.5M383.1 97.4L387.4 98.3L389.6 96.5L392.0 95.0L390.2 94.2L392.5 94.6L394.2 93.2L397.0 92.9L398.3 93.8L397.5 92.7L399.2 91.2L400.1 92.3L399.8 91.0L401.9 90.6M413.8 0.0L413.0 3.4L412.6 6.8L413.8 10.0L411.8 11.8L414.0 10.5L415.6 12.8L413.1 14.6L411.3 17.1L411.4 20.1L409.5 22.7L409.6 25.6L410.8 28.4L409.5 29.5L410.9 29.0L410.2 31.4L411.3 34.2L410.5 37.3L411.1 40.5L412.5 39.9L411.0 41.1L410.4 43.6L413.1 44.2L412.2 45.2L413.7 44.4L415.6 45.3L416.1 48.4L417.9 47.9L416.2 49.0L417.3 51.3L415.4 53.3L415.1 56.2L417.1 57.1L414.7 56.7L413.0 58.1L411.8 61.0L413.7 60.5L411.7 61.6L411.3 64.1L414.1 65.4L414.4 66.8L414.7 65.6L417.3 65.8L417.9 68.3L416.3 70.1L418.2 68.9L419.8 70.1L420.8 67.8L418.9 67.1L421.2 67.3L423.3 66.5L421.9 65.5L423.6 66.0L424.1 64.1L426.3 65.4L427.5 67.5L426.9 70.8L425.0 73.5L427.4 74.7L430.1 75.2L432.0 73.4L434.1 74.0L432.3 72.9L433.0 70.8L435.2 69.2L437.6 67.9L437.2 66.1L438.2 67.7L440.3 67.8L442.8 66.9L442.8 64.4L443.4 66.7L445.5 66.7L448.8 67.7L449.2 69.8L449.4 67.9L452.3 68.4L454.3 69.9L456.9 70.5L457.6 67.5L457.4 70.8L458.7 72.2L460.9 73.5L463.9 74.6L465.5 73.3L464.4 74.8L466.8 75.9L466.1 77.4L467.3 76.1L469.4 77.8L472.0 78.7L473.3 77.7L472.5 79.1L474.3 80.1L476.2 82.1L478.5 83.3L481.2 81.2L479.0 83.7L480.0 85.5M416.4 0.0L417.8 2.5L415.1 3.1L418.1 3.1L419.0 5.1L416.4 7.7L418.6 8.8L420.1 7.3L419.2 9.1L420.7 10.3L419.4 12.4L418.1 14.5L422.4 13.7L421.2 16.3L418.6 15.7L420.9 16.8L419.8 18.8L417.7 20.1L419.5 21.7L417.2 20.5L416.4 22.2L413.0 20.5M403.6 119.7L402.7 116.3L402.7 112.8L405.7 111.2L407.9 108.5L410.8 108.3L413.6 107.7L416.4 106.8L419.8 107.6L419.0 110.1L420.4 107.8L423.2 108.5L424.6 110.8L426.5 112.7L425.1 114.3L426.9 113.1L428.4 114.5L431.3 115.5L433.8 117.4L434.6 114.9L434.4 117.7L436.9 117.9L439.8 118.5L442.8 118.4L444.1 117.0L443.4 118.5L445.5 119.7L448.0 119.9L448.8 117.5L448.6 120.0L450.6 120.1L453.1 120.8L452.6 118.7L453.7 120.9L455.7 120.5L457.9 121.6L458.0 124.7L458.5 121.9L460.4 122.0L458.6 123.3L460.9 122.2L462.6 123.1L464.3 127.4L461.4 127.2L462.2 124.5L460.8 127.1L458.5 127.2L455.7 126.5L452.2 126.2L452.7 127.9L451.6 126.3L448.9 127.4L445.8 126.3L444.2 128.8L445.3 126.1L443.2 124.5L440.3 123.1L437.4 123.2L434.6 122.7L431.8 122.2L429.8 120.4L427.2 119.4L427.8 117.0L426.7 119.1L425.0 117.9L422.2 118.7L419.3 119.5L419.7 117.6L418.7 119.6L416.4 119.7L414.7 123.1L412.3 121.0L411.3 117.9L409.8 119.9L408.6 118.5L409.4 120.3L407.7 121.2L406.2 123.1ZM360.0 119.7L361.5 117.0L363.4 114.5L365.7 116.7L367.9 114.6L366.2 117.0L368.5 117.9L368.3 121.5L366.8 124.8L368.4 127.5L369.6 127.1L368.7 128.0L370.3 129.9M375.4 119.7L375.9 116.1L377.5 115.9L376.0 115.6L377.1 112.8L379.6 112.2L378.3 109.1L380.2 112.1L382.3 112.6L384.9 112.0L387.4 111.1L386.2 113.8L385.7 116.7L388.2 117.8L385.6 117.3L385.6 119.7L384.6 122.0L383.3 124.2L381.8 123.4L383.0 124.7L382.2 126.5L380.5 129.9M391.6 129.9L391.1 126.9L392.6 127.0L391.2 126.3L392.1 123.9L391.5 120.9L392.5 117.9L393.3 115.7L394.4 113.5L395.0 111.1L398.0 110.5L398.8 113.7L398.6 110.4L401.0 110.3L400.5 113.4L403.0 114.6L400.5 114.0L400.7 116.5L400.2 119.7L401.0 121.9L398.2 123.5L401.2 122.5L401.7 124.3L398.8 125.3L401.9 124.8L402.7 126.5M360.0 67.5L363.4 68.4L364.5 70.7L366.1 72.7L368.4 72.5L366.4 73.3L366.8 75.2L365.4 78.0L363.4 80.3L360.0 78.6M367.7 71.8L371.1 70.9L373.0 73.9L375.1 74.0L373.3 74.4L374.5 76.9L372.0 78.6L370.8 76.2L368.9 74.2L367.1 74.9L368.6 73.7ZM372.0 79.5L374.5 79.9L374.6 77.2L375.1 79.9L377.1 79.5L377.1 82.1L372.3 82.1ZM381.4 78.6L384.8 79.5L383.9 83.8L381.4 83.8L380.6 81.2L381.9 80.2L380.6 80.6ZM364.3 59.0L366.0 58.1L366.5 62.4L364.8 62.4ZM360.0 90.6L363.4 90.3L366.8 89.7L368.9 87.9L370.3 85.5L372.8 86.5L375.4 87.2L377.0 89.0L378.8 90.6L377.8 93.1L377.1 95.7L378.4 97.8L378.9 100.3L379.7 102.6L377.9 106.8L375.1 106.1L373.6 106.8L374.6 105.9L372.8 104.3L371.8 101.6L369.0 102.8L371.5 101.1L370.3 99.1L368.9 101.9L367.2 100.6L368.5 102.4L366.8 104.3L364.3 103.2L361.7 102.6L360.2 100.2L360.0 97.4M361.7 93.2L366.0 92.3L367.9 94.1L371.0 93.4L368.2 94.6L368.5 96.6L366.9 98.8L367.9 100.9L366.5 99.2L365.1 100.9L367.2 99.3L369.1 100.3L367.5 98.8L367.6 96.6L368.9 97.0L368.0 96.1L369.4 94.9L371.2 93.1L373.7 92.3L375.2 95.1L375.4 98.3M420.9 69.5L423.3 67.0L425.4 68.9L423.8 66.6L426.4 65.4L426.2 68.9L428.9 70.3L426.1 69.5L425.0 72.3L427.2 73.6L428.1 71.2L427.8 73.8L429.4 74.8L429.6 71.3L430.0 75.0L432.0 75.1L433.2 72.8L435.8 72.0L433.9 71.2L436.2 71.6L437.6 70.3L438.7 71.1L438.0 69.9L438.9 68.2L441.4 67.7L443.7 66.9L446.2 66.9L448.7 66.8L451.0 68.0L452.8 66.5L451.6 68.2L453.4 69.3L456.1 69.6L458.2 66.8L456.7 69.8L458.4 70.9L460.8 72.1L462.5 74.4L465.0 75.2L465.9 73.3L465.5 75.6L467.2 76.7L469.5 77.9L471.5 79.6L474.1 79.8L473.5 81.5L474.7 80.1L476.0 81.7L478.8 81.7L480.7 83.4L483.4 83.9L486.2 83.6L486.7 80.5L486.8 83.6L489.0 84.1L489.7 82.7L489.6 84.1L491.8 83.4L494.1 84.4L495.6 86.8L496.9 84.7L496.1 87.1L498.3 87.2L499.8 84.8L498.8 87.6L500.1 89.0L502.4 90.7L503.3 93.5L505.8 92.6L503.7 93.9L505.3 95.3L502.9 96.3L505.7 95.8L507.1 97.4L510.2 99.0L512.7 101.5L515.1 102.3L517.4 103.2L517.9 105.1L517.9 103.5L519.6 104.3L519.8 107.8L522.4 107.0L519.8 108.4L519.6 111.3L521.9 112.3L520.0 114.1L522.4 112.6L524.0 113.8L526.6 114.0L528.9 115.0L531.3 115.5L533.5 116.8L535.5 118.6L536.9 120.8L539.1 122.4L541.5 124.4L540.3 125.3L542.1 124.7L544.9 124.6L545.9 122.4L545.5 124.8L547.4 126.6L549.9 128.6L553.3 128.7L555.8 130.7L558.6 130.6L558.7 133.9L559.2 130.6L561.3 131.0L564.1 131.0L565.2 133.2L564.7 131.0L566.9 130.7L570.0 130.4L570.1 131.8L570.5 130.2L572.7 129.3L575.4 128.1L574.7 125.2L576.0 127.9L578.0 126.6L580.6 126.4L581.0 124.6L581.2 126.1L582.8 125.0L581.0 123.0L583.3 124.8L585.0 123.8L586.1 121.5L586.9 123.0L586.5 121.0L587.8 119.6L585.3 117.1L587.2 115.0L585.0 116.6L583.6 114.0L581.4 112.5L582.9 109.5L581.0 112.1L580.3 109.9L578.0 108.5L575.6 107.6L574.2 108.3L575.1 107.2L574.0 105.5L572.9 107.2L573.5 105.2L571.9 104.1L572.4 102.5L571.4 103.8L569.7 102.9L568.8 100.6L571.8 99.6L568.6 100.0L567.3 98.5L570.4 98.1L567.1 97.9L566.9 96.0L564.8 94.2L566.0 91.1L564.3 93.9L562.3 93.0L560.8 90.5L562.7 89.2L560.4 90.2L558.6 89.0L556.7 86.4L553.3 87.0L556.5 85.9L555.2 83.7L557.8 81.8L554.9 83.2L554.4 80.7L553.1 78.0L551.8 75.3L551.6 72.3L553.5 70.7L552.9 69.7L554.0 70.4L555.8 69.5L554.4 67.4L557.3 66.1L554.2 66.9L553.4 65.1L551.0 66.9L553.2 64.6L553.0 62.6L551.4 60.5L554.0 60.1L551.2 60.0L550.7 58.1L550.2 55.6L549.1 53.4L547.5 51.4L546.5 52.3L547.2 50.9L546.3 49.2L548.4 46.8L546.0 48.7L544.6 47.3L542.1 45.4L541.6 46.5L541.6 45.1L539.1 44.5L542.0 44.4L541.3 42.9L542.6 44.2L544.6 43.1L544.1 40.6L546.6 40.6L544.1 40.0L544.6 38.1L543.1 37.3L544.6 37.5L545.2 35.6L548.0 35.0L545.2 35.0L543.9 33.1L544.6 30.6L544.7 27.6L542.4 28.1L544.5 27.1L542.5 25.2L542.1 22.4L543.3 21.3L542.0 21.8L541.9 19.5L539.8 17.8L542.8 17.2L539.5 17.3L539.2 15.2L537.7 13.2L536.3 11.1L533.5 8.3L533.2 11.3L531.3 13.8L529.9 13.3L531.1 14.4L530.7 16.7L531.4 19.1L529.4 19.6L531.5 19.7L530.9 21.6L533.2 20.5L530.9 22.2L531.3 24.1L532.1 26.4L529.4 27.3L530.4 30.2L528.8 27.4L526.6 27.8L526.8 24.9L525.4 22.3L527.1 20.8L525.3 21.7L525.2 19.5L522.1 21.2L519.6 23.6L517.0 22.5L514.0 22.3L515.7 20.0L513.1 17.8L516.1 19.6L518.1 18.7L520.2 16.9L521.0 17.9L520.6 16.5L522.4 15.3L519.3 14.6L516.8 17.1L518.7 14.3L516.8 12.5L513.9 14.4L511.3 16.7L508.6 15.4L505.7 15.3L503.6 12.9L502.9 9.7L505.5 7.3L508.5 5.6L505.6 5.0L505.1 8.2L505.0 4.8L502.9 3.7L504.4 0.7L502.4 3.5L500.1 2.8L497.5 1.2L496.3 3.4L496.9 0.9L494.6 0.0M505.7 100.1L507.8 102.2L505.4 103.0L508.2 102.7L509.9 104.4L507.9 105.2L510.2 104.9L511.3 107.1L510.3 104.8L507.2 105.0L510.2 104.2L510.8 102.2L513.5 101.7L510.7 101.6L510.4 99.8L512.4 100.2L510.3 99.2L509.9 97.4L511.2 99.9L508.9 100.8L511.5 100.4L512.2 102.6L509.8 103.4L512.4 103.2L513.4 105.2L510.3 105.7L513.7 105.8L514.9 107.7L513.7 108.2L515.2 108.2L516.8 109.9L516.5 106.3L514.7 106.1L516.4 105.7L515.4 102.9L517.3 104.9L519.1 104.0L517.6 105.4L517.7 107.7L519.6 109.6L520.7 112.0L522.4 114.0L523.8 111.9L525.2 109.9L526.3 112.5L528.5 114.4L530.0 116.8L530.7 119.6L532.9 117.6L530.4 115.4L533.3 117.2L534.9 115.4L535.9 118.4L537.5 121.1L535.8 122.5L537.8 121.6L539.1 123.8L541.9 124.2L540.9 126.4L542.5 124.3L544.6 125.2L546.7 127.0L549.3 128.0L547.7 128.9L549.8 128.3L551.6 129.3L555.1 129.0L558.6 128.5L561.6 129.3L564.1 131.3L566.3 129.9L569.0 129.6L571.1 128.0L572.8 124.9L574.7 127.7L573.1 124.4L575.2 122.4L578.0 123.9L579.5 121.0L578.5 124.1L580.8 125.2L582.9 122.7L580.7 121.9L583.2 122.2L583.6 119.6M486.2 90.4L488.5 89.3L490.8 88.3L493.2 87.6L494.8 89.7L493.7 90.5L495.3 90.1L496.8 91.4L498.7 93.2L497.5 95.8L497.4 98.7L493.9 98.1L493.7 100.7L493.3 98.0L490.4 97.4L489.1 95.0L487.2 93.0L484.3 94.7L486.9 92.5ZM476.5 83.4L479.1 82.1L482.1 82.1L481.1 85.5L480.7 89.0L479.2 85.8ZM575.2 0.0L574.9 2.8L576.7 3.1L574.8 3.4L574.8 5.6L577.4 5.7L574.7 6.2L573.9 8.3L571.8 10.0L571.7 12.9L569.0 11.7L571.3 13.4L570.3 15.0L572.7 17.1L570.0 15.5L568.3 16.7L569.5 19.4L567.2 20.3L569.6 19.9L569.7 22.3L571.7 24.4L573.9 26.4L575.2 22.3L578.0 23.8L577.9 25.3L578.5 24.0L580.8 25.0L581.6 22.0L580.6 20.6L581.9 21.4L583.6 19.5L586.3 21.7L589.2 23.6L589.4 21.1L592.3 21.7L589.7 20.5L590.8 18.9L592.8 18.7L591.0 18.4L591.9 16.7L593.0 13.9L594.7 15.7L593.2 13.4L594.4 11.3L594.7 8.3L594.5 5.3L597.3 5.6L594.3 4.8L593.5 2.6L591.9 0.0M400.0 111.3L402.6 109.6L405.8 108.9L404.7 106.7L406.3 108.7L408.3 107.1L411.2 107.3L410.2 105.4L411.8 107.2L413.9 105.9L416.7 105.7L419.0 107.1L421.5 108.1L421.5 110.4L422.1 108.4L423.6 109.9L421.5 111.6L419.3 113.2L419.2 110.9L418.8 113.5L416.7 114.0L416.6 117.6L415.3 121.0L417.5 119.4L417.8 121.1L418.0 119.1L419.6 117.6L422.3 116.8L425.0 116.1L424.9 118.9L425.6 116.0L427.9 116.4L428.3 114.2L428.5 116.3L430.6 115.4L433.7 117.1L432.9 120.0L434.2 117.4L436.2 119.6L438.9 118.7L441.7 118.7L442.6 120.8L442.3 118.6L444.5 118.2L447.5 119.3L450.0 121.1L450.2 119.3L450.5 121.4L452.9 122.4L454.9 123.9L455.3 121.5L455.5 124.1L457.3 124.7L457.9 122.0L457.9 124.9L459.8 125.2L462.2 126.9L462.9 125.4L462.7 127.3L464.3 129.1L462.8 131.0L464.7 129.5L466.8 130.7L469.6 130.9L468.4 132.6L470.2 131.0L472.3 132.0L473.3 130.1L472.9 132.1L475.1 132.1L477.8 133.2L480.8 132.5L481.4 131.3L481.4 132.6L483.4 133.5L486.3 133.7L486.1 131.0L486.9 133.8L488.9 135.0L487.6 137.4L489.5 135.1L491.8 134.9L493.4 137.8L496.0 139.9M416.7 119.6L419.4 120.9L418.3 121.9L419.9 121.1L422.4 121.2L422.3 122.5L422.9 121.4L425.0 122.4L426.0 119.4L427.8 116.8L429.6 119.2L431.8 121.2L429.0 122.0L432.2 121.7L433.4 123.8L436.5 122.1L438.9 119.6L441.3 122.2L443.1 119.5L441.7 122.7L443.1 125.2L445.7 122.8L448.2 124.5L446.1 122.4L448.7 121.0L450.2 123.6L448.5 125.7L450.6 124.0L452.0 126.0L453.0 125.0L452.4 126.4L454.2 128.0L457.2 127.9L459.8 126.6L461.4 129.1L463.4 131.3L464.3 130.4L463.7 131.8L465.4 133.5L467.7 132.6L469.8 131.1L472.3 130.7L474.7 132.1L475.7 134.8L477.6 133.3L476.1 135.2L477.9 136.3L480.7 135.4L480.9 136.8L481.3 135.3L483.3 134.0L483.2 132.4L483.9 133.8L486.2 133.5L488.4 135.1L487.5 137.5L488.8 135.5L490.1 137.1L488.0 139.4L490.5 137.5L491.8 139.1M452.9 120.0L454.8 121.9L456.3 124.2L458.5 125.9L459.8 128.3L462.2 129.9L462.8 126.9L462.7 130.2L464.8 130.8L463.6 132.0L465.4 131.1L467.3 132.1L469.5 133.9L472.3 134.2L471.8 136.0L472.9 134.2L475.2 134.1L475.9 132.9L475.8 134.2L478.0 134.3L480.7 135.3L483.2 135.7L485.4 134.0L485.9 136.1L486.0 133.9L487.9 133.5L490.4 133.9L492.3 136.8L494.6 139.5L493.0 141.5L493.1 144.3L491.4 144.3L492.9 144.8L491.8 146.4L489.1 145.4L488.0 146.9L488.5 145.3L486.3 144.8L485.3 147.6L485.8 144.7L483.4 145.0L480.8 146.7L479.7 143.8L480.3 146.9L477.8 147.7L477.5 144.5L477.3 148.0L475.1 149.2L477.8 150.7L480.7 152.0L482.7 153.6L484.8 154.8L487.3 155.3L486.8 156.8L487.9 155.6L489.9 155.8L491.8 157.6L493.9 158.9L490.8 160.5L494.3 159.3L495.3 161.0L493.9 163.5L495.8 161.4L496.6 163.2L498.7 164.5L500.2 167.2L502.5 165.9L500.5 167.8L501.8 170.0L504.6 169.6L502.0 170.5L502.9 172.9L499.3 172.7L499.3 174.9L498.8 172.6L496.0 171.5L493.6 172.3L492.2 170.6L493.0 172.4L491.0 171.5L488.6 171.8L486.2 172.9L488.4 174.1L491.0 174.4L492.8 176.3L493.9 174.1L493.4 176.6L495.0 177.5L494.9 175.3L495.6 177.8L497.4 178.4L500.9 178.6L504.3 179.8L501.9 180.6L501.0 178.1L501.3 180.7L499.5 181.3L499.7 178.7L498.9 181.5L497.2 182.4L494.6 182.6L491.8 182.5L492.8 179.4L491.2 182.5L489.0 182.5L489.7 184.8L488.4 182.5L486.2 182.5L487.2 184.8L485.6 182.5L483.4 182.6L481.3 181.3L480.0 183.1L480.8 181.0L479.5 179.5L476.8 178.9L475.1 177.0L472.4 175.8L474.1 173.1L471.9 175.6L469.8 174.5L466.8 174.2L464.2 175.8L462.8 173.1L463.7 176.1L462.3 178.1L461.1 175.9L461.8 178.5L459.8 179.8L456.9 180.4L457.1 183.7L456.3 180.6L454.2 181.6L451.5 182.6L449.8 179.4L451.7 177.2L449.5 179.0L447.3 177.0L449.6 175.1L451.5 172.9L454.8 171.6L454.8 168.7L455.4 171.4L458.4 171.5L456.8 169.4L456.0 167.1L458.3 165.0L455.7 166.5L455.6 164.5L457.7 162.9L459.4 163.4L458.1 162.4L459.4 160.9L460.8 161.3L459.9 160.5L461.2 158.9L458.6 157.5L456.4 155.5L454.2 153.4L452.7 150.7L449.7 151.7L452.4 150.1L451.9 147.6L450.1 145.0L447.5 144.6L446.0 145.6L447.0 144.3L445.8 142.4L444.7 143.6L445.3 142.1L443.3 141.9L442.9 143.3L442.8 141.6L441.4 140.1L438.9 139.5L435.9 138.7L434.9 140.1L435.3 138.4L433.1 137.3L433.8 135.5L432.5 137.1L430.6 135.3L427.7 134.1L427.6 135.3L427.2 133.8L425.0 132.5L427.1 135.0L423.7 135.7L427.4 135.5L427.8 138.1L425.4 139.2L426.8 140.5L424.8 139.5L423.1 140.8L425.8 143.0L422.6 141.1L420.9 142.3L421.7 145.1L422.2 148.0L423.6 150.6L424.8 153.5L426.6 156.1L429.7 155.7L426.9 156.6L427.8 158.9L427.1 161.7L429.9 162.2L427.0 162.3L426.7 164.5L424.5 163.0L426.6 165.1L426.4 167.3L424.2 168.5L423.2 165.2L423.6 168.7L421.9 169.5L422.3 167.3L421.4 169.7L419.5 170.1L420.9 174.2L417.9 174.4L418.9 176.4L417.4 174.5L415.3 175.6L413.4 173.1L414.9 171.8L413.2 172.6L412.6 170.0L411.1 167.3L409.1 165.6L407.5 163.5L405.6 163.8L407.1 163.1L405.6 161.7L404.0 159.8L402.7 157.6L400.8 155.8L403.8 154.6L400.5 155.4L400.0 153.4M440.3 149.2L443.9 147.0L447.6 150.0L447.3 154.8L443.7 157.3L440.6 154.8L439.7 152.0L438.0 152.8L439.7 151.4ZM462.6 153.4L464.8 152.3L464.2 149.8L465.4 152.1L467.0 151.1L469.5 150.6L467.9 152.6L468.3 155.5L466.8 157.6L465.1 155.0L466.1 153.9L464.7 154.6ZM507.1 179.2L511.3 178.4L511.3 181.2L507.1 181.2ZM412.5 175.6L414.2 178.1L416.7 179.8L419.2 181.8L420.3 180.2L419.7 182.1L422.3 182.5L425.0 184.0L427.9 184.8L427.5 186.9L428.5 185.0L430.7 185.8L429.7 188.1L431.3 186.0L433.7 186.4L436.2 188.2L438.4 189.6L441.2 190.3L443.1 192.3L440.6 193.4L440.6 191.8L440.1 193.7L438.3 194.7L436.6 192.2L437.7 195.0L436.2 196.5L433.4 195.0L430.6 193.7L428.7 196.0L427.3 198.7L425.7 201.2L423.6 203.4L421.5 201.7L418.9 200.9L416.7 199.3L417.8 197.0L416.1 195.6L417.9 196.4L416.8 194.3L414.7 193.4L416.9 193.7L417.5 191.9L418.1 189.5L415.6 187.0L413.9 184.0L412.8 181.3L414.3 181.1L412.7 180.7L413.1 178.4L416.4 178.7L413.0 177.8ZM433.4 204.8L435.9 203.0L438.9 202.1L437.6 204.7L439.0 204.4L437.4 205.3L437.6 207.6L434.9 207.9L433.2 205.8L434.3 208.1L432.8 209.6ZM447.8 204.8L451.5 203.4L451.9 206.2L448.9 207.2L452.0 206.8L452.3 209.0L448.7 209.6L447.6 207.3ZM503.5 195.1L505.1 194.5L505.1 198.4L503.5 198.4ZM400.0 145.0L403.4 144.2L407.0 143.6L409.4 145.5L410.8 148.2L412.5 150.6L411.5 153.3L412.3 156.2L410.6 155.4L412.2 156.8L411.9 159.0L411.1 161.7L409.1 163.9L406.3 161.9L408.7 164.4L407.8 166.7L405.6 168.7L403.0 166.8L402.2 169.5L402.5 166.5L400.0 165.9M400.0 184.0L402.8 184.2L402.7 187.4L403.4 184.3L405.5 185.1L405.3 182.5L406.1 185.2L408.3 185.4L409.8 187.7L411.3 185.1L410.2 188.1L411.6 189.5L413.9 190.9L413.5 193.5L415.2 192.7L413.4 194.0L411.9 195.6L409.4 194.1L411.7 196.2L411.5 198.2L413.3 199.2L411.4 198.7L411.1 200.7L408.4 202.0L407.0 205.0L409.7 206.6L406.5 205.3L404.2 206.2L402.1 207.6L401.8 205.2L401.6 207.9L400.0 209.0M457.0 203.4L458.4 199.3L461.3 199.6L461.8 202.7L461.9 199.5L463.9 197.8L462.8 196.3L464.5 197.7L466.8 197.9L469.3 196.5L470.1 197.7L469.8 196.2L471.8 195.1L471.6 193.2L472.3 194.7L473.7 192.9L477.1 194.1L475.7 195.4L477.7 194.2L480.7 194.5L483.4 197.9L486.0 196.4L485.2 194.5L486.6 196.3L488.8 195.6L491.8 195.7L494.5 197.0L496.5 195.2L495.0 197.2L497.4 197.9L497.5 201.5L498.7 204.8L500.7 206.6L502.0 204.9L501.1 207.0L502.6 208.4L502.8 206.5L503.0 208.8L504.3 210.4L505.7 214.6L508.6 212.6L511.3 210.4L514.1 210.7L516.8 211.8L515.6 214.7L513.8 214.7L515.3 215.2L513.6 217.2L512.7 220.1L513.9 217.4L516.1 215.3L518.2 213.2L519.5 210.9L522.7 211.9L519.8 210.4L521.1 208.8L518.6 208.2L521.4 208.3L521.8 206.2L521.3 203.4L520.2 200.7L519.6 197.9L518.5 195.2L516.2 196.4L518.3 194.6L518.0 192.3L516.5 193.3L517.8 191.7L516.8 189.5L519.2 192.2L520.8 189.9L519.7 192.5L522.4 193.7L524.7 194.7L526.6 192.1L525.2 195.1L526.5 196.5L528.9 197.5L527.5 200.2L529.4 197.9L530.7 199.3L533.4 200.7L536.1 201.7L537.5 200.0L536.7 201.9L539.1 202.1L541.5 202.9L540.2 204.2L542.0 203.3L543.0 205.2L541.6 206.9L543.5 205.6L544.9 206.9L547.4 207.6L550.2 208.9L550.8 205.9L550.8 209.2L552.9 210.7L551.5 212.6L553.4 210.9L555.8 211.8L558.6 212.0L558.6 213.3L559.2 212.1L561.5 212.0L560.6 214.7L562.0 212.1L564.1 213.2L566.8 211.9L569.5 210.7L572.5 210.4L575.3 210.5L575.3 208.4L575.9 210.4L578.0 209.3L578.9 211.3L578.6 209.2L580.8 209.0L580.2 211.5L582.8 212.1L580.0 212.0L579.1 213.7L578.0 216.0L576.4 218.1L579.5 219.2L576.1 218.7L575.7 220.7L577.1 221.0L575.5 221.3L574.9 223.3L578.2 223.5L574.6 223.8L573.9 225.7L576.1 223.0L574.2 221.8L576.4 222.5L578.0 220.1L579.8 217.8L581.7 215.4L580.1 213.7L582.0 215.0L583.6 213.2L586.4 213.1L586.3 211.8L587.0 213.0L589.2 212.7L591.9 211.8L595.0 212.6L594.7 211.0L595.5 212.9L597.5 214.6L599.3 217.1L600.0 220.1M457.0 203.4L457.9 206.3L460.4 205.4L458.0 206.8L459.6 208.8L459.8 211.8L461.3 213.8L461.9 216.4L463.5 218.4L464.4 216.3L463.8 218.9L465.4 220.1L465.6 222.7L463.7 222.9L465.8 223.3L466.7 225.0L468.2 227.1L467.4 229.9L466.0 230.4L467.3 230.5L466.8 232.7L468.9 234.0L471.5 234.2L471.7 232.8L472.1 234.4L473.7 235.4L475.5 237.1L474.2 239.4L475.9 237.6L477.5 238.6L478.9 240.7L480.0 239.2L479.3 241.1L480.7 242.4L482.0 245.2L483.4 244.0L482.2 245.8L483.1 248.1L484.8 250.7L484.2 253.5L480.9 253.9L484.1 254.1L484.6 256.4L481.9 256.8L484.5 257.0L483.4 259.1L482.6 261.8L481.1 264.0L479.3 266.0L477.1 268.1L475.1 270.2L477.2 273.0L479.3 275.8L480.4 278.7L481.5 277.2L480.7 279.2L481.5 281.6L480.5 282.9L481.7 282.2L483.4 284.1L484.2 286.6L482.6 288.9L484.6 287.1L486.0 288.5L486.5 286.8L486.3 289.0L487.2 290.7L488.4 289.4L487.5 291.2L489.0 292.5L489.4 295.0L486.4 296.4L489.5 295.6L490.5 297.4L490.4 300.0M400.0 256.3L400.7 259.4L399.7 260.3L401.0 260.0L403.2 261.7L402.2 262.8L403.4 262.2L404.2 264.6L406.9 263.6L409.5 262.2L412.5 261.9L415.1 262.0L417.2 264.0L419.8 264.0L420.3 262.1L420.4 264.2L422.3 264.6L424.0 266.6L425.4 264.9L424.5 266.9L426.4 267.5L426.3 269.3L426.9 267.8L428.2 269.3L426.6 272.1L428.7 269.6L430.6 270.2L433.2 271.6L432.9 268.2L433.8 271.8L436.2 271.3L435.9 269.5L436.8 271.5L438.8 272.7L438.2 271.2L439.4 272.9L441.7 273.0L444.2 272.7L446.6 272.4L445.5 271.3L447.2 272.4L449.1 272.2L449.1 274.7L449.7 272.1L451.5 271.6L454.9 272.6L454.8 270.9L455.5 272.7L458.4 273.0L459.3 276.0L461.2 278.5L462.1 277.1L461.5 279.1L462.6 281.3L463.5 284.1L461.9 283.8L463.7 284.7L464.4 286.9L462.4 287.3L464.6 287.5L465.4 289.7L467.6 291.2L468.8 290.0L468.0 291.6L468.6 293.8L466.8 296.6L469.1 294.3L470.9 295.2L472.9 297.7L475.1 300.0M466.8 289.7L469.3 287.9L472.3 286.9L475.1 289.7L470.9 291.9ZM578.0 267.4L580.6 266.0L581.1 267.2L581.2 265.8L583.5 265.3L586.4 264.6L589.1 263.8L591.9 263.8L594.7 264.1L591.9 267.4L589.4 267.5L587.2 269.2L588.9 271.4L586.6 269.4L584.6 268.9L582.2 269.7ZM539.0 202.5L541.2 204.6L540.4 207.6L541.7 204.9L544.4 205.2L546.5 207.5L549.1 208.6L549.0 210.1L549.6 208.9L551.4 210.3L549.9 211.7L551.9 210.5L554.0 211.3L556.7 211.7L558.4 208.7L557.2 211.9L559.0 212.9L560.5 210.3L559.6 213.1L561.5 213.8L564.1 213.1L563.9 210.5L564.7 213.0L566.3 211.5L569.0 211.3L571.5 210.2L571.0 206.9L572.0 210.0L573.9 209.0L576.6 208.8L580.3 210.0L578.8 212.3L578.3 214.9L577.8 217.5L575.7 219.8L574.6 222.6L572.8 225.0L576.6 227.5L577.9 225.2L578.1 222.4L579.4 220.0L580.3 217.5L581.0 214.7L582.8 212.5L586.1 211.7L586.6 214.8L586.7 211.5L589.1 210.0L592.2 210.6L593.1 208.4L592.8 210.7L595.3 211.3L597.6 214.0L600.0 212.3L598.0 214.4L600.3 216.3L601.7 219.2L604.1 221.3L603.6 224.4L606.3 224.6L603.5 225.0L602.8 227.5L601.9 230.0L600.7 232.4L598.9 230.8L600.5 233.0L600.3 235.1L598.6 237.3L596.6 235.8L598.4 237.9L598.2 240.3L601.2 241.2L598.0 240.8L596.6 242.6L595.9 245.4L593.3 244.5L595.7 245.9L593.6 247.4L590.9 246.8L593.4 247.9L592.8 250.1L591.1 252.5L589.2 249.7L590.7 252.9L588.2 253.8L586.6 256.3L583.7 257.5L585.0 259.4L583.2 257.8L581.1 259.0L579.4 256.5L580.6 259.4L579.1 261.3L577.0 263.7L574.6 261.4L576.5 264.0L574.3 265.0L574.3 266.7L573.8 265.3L571.5 266.3L569.4 268.4L571.5 271.0L569.0 268.8L567.9 271.0L565.3 272.6L564.5 275.1L563.8 277.7L562.8 280.1L563.2 283.3L565.7 283.8L563.3 283.9L564.0 286.4L562.8 288.9L559.4 288.1L562.5 289.4L561.3 291.3L560.3 293.9L559.5 296.8L558.0 299.6L557.8 302.7L557.1 305.1L555.0 305.9L557.0 305.7L556.5 307.6L559.1 306.8L556.5 308.2L557.0 310.2L556.5 312.7L555.7 316.1L552.8 315.7L555.6 316.7L555.3 319.7L557.1 317.3L559.0 315.2L559.9 312.7L560.6 310.2L557.4 309.0L560.7 309.7L560.6 307.6L558.3 306.3L560.7 307.0L561.5 305.2L561.9 302.6L559.5 302.8L562.1 302.0L563.2 300.2L564.9 301.2L563.3 299.7L563.2 297.6L564.0 295.1L566.0 293.0L563.9 292.8L566.2 292.4L566.3 290.0L567.5 290.9L566.6 289.5L567.6 287.5L569.0 285.1L570.7 283.0L573.5 284.7L571.1 282.6L573.0 281.5L574.5 279.3L576.6 281.2L574.9 278.9L576.6 277.6L579.7 277.9L582.8 277.6L585.3 281.4L584.4 284.0L587.5 285.0L584.1 284.6L582.8 286.4L579.6 287.4L577.8 285.0L579.1 287.7L576.6 288.9L580.3 291.4L582.9 289.6L584.3 292.6L583.4 289.2L585.3 287.6L587.5 289.3L589.6 287.3L587.9 289.8L588.3 292.1L590.4 291.8L588.6 292.6L590.3 293.9L592.3 295.7L594.2 297.6L596.0 294.8L594.7 297.9L596.6 298.9L600.3 300.2L602.8 296.4L602.2 299.4L601.4 302.3L604.4 303.2L601.2 302.9L600.3 305.2L599.3 307.6L599.2 310.4L598.0 309.9L599.0 310.9L597.8 312.7L595.5 314.8L594.1 317.7L591.6 320.2M605.3 221.3L609.1 223.8L609.6 226.6L607.4 228.0L609.7 227.2L609.9 229.5L611.5 232.1L611.6 235.1L612.5 237.7L615.6 236.8L612.8 238.3L614.1 240.1L616.2 238.3L617.9 236.3L615.9 234.3L618.3 235.8L619.1 233.8L622.3 234.1L622.3 231.5L622.9 234.2L625.4 235.1L626.9 232.3L626.4 230.5L627.3 231.8L629.1 230.0L632.4 229.9L633.7 232.4L632.9 229.8L635.4 228.8L637.5 230.5L635.3 231.9L637.9 230.9L639.2 232.5L641.8 232.5L641.3 229.9L642.4 232.6L644.2 233.8L646.5 234.9L646.6 233.2L647.1 235.1L649.2 235.1L651.0 237.0L652.9 238.9L654.2 241.3L654.0 243.9L652.9 246.3L650.4 245.8L651.5 247.1L649.8 245.8L647.9 246.3L646.7 243.2L645.2 243.2L646.4 242.6L645.4 240.1L641.7 241.3L641.9 243.8L644.1 242.8L642.0 244.4L641.9 246.4L642.9 248.8L641.2 251.1L640.4 253.8L637.7 251.5L635.4 248.8L634.1 251.7L632.6 251.2L633.7 252.2L631.6 253.8L628.9 255.4L628.0 253.7L628.5 255.8L626.6 257.6L625.2 259.9L627.5 261.5L624.9 260.4L623.7 262.1L621.6 263.8L617.9 266.3L615.6 264.8L613.1 265.7L615.2 264.4L614.1 262.6L613.9 259.4L612.9 256.3L613.1 253.7L612.4 251.3L613.9 250.1L612.3 250.7L611.6 248.8L611.1 245.8L609.6 243.1L607.8 242.4L609.4 242.5L609.1 240.1L608.2 237.6L609.5 236.3L608.0 237.0L608.3 234.9L609.9 235.4L608.2 234.4L607.7 232.4L604.2 232.6L607.5 231.9L606.6 230.0L606.1 227.1L605.2 224.3L602.9 225.3L605.1 223.7ZM637.9 230.0L639.5 232.4L642.8 231.9L639.8 232.9L639.7 235.4L637.5 237.3L640.0 235.9L641.7 237.6L645.4 236.3L646.2 238.7L645.2 239.5L646.5 239.2L648.1 240.4L650.6 238.7L648.4 240.9L649.2 242.6L651.7 240.1M576.6 268.9L579.3 266.6L582.8 265.6L585.3 265.2L585.9 263.1L585.9 265.0L587.8 264.6L590.3 264.1L592.9 263.9L591.6 267.0L593.5 263.9L595.3 264.6L592.8 267.6L590.3 268.0L589.8 266.4L589.7 268.1L587.8 268.4L585.3 269.1L582.2 269.7L581.8 266.9L581.6 269.8L579.1 270.1ZM595.3 291.4L597.3 293.2L599.1 295.1L601.5 296.1L602.1 293.5L602.1 296.2L604.1 296.4L607.0 294.6L610.4 293.9L611.1 291.4L609.3 291.6L611.3 290.8L611.6 288.9L614.1 292.6L616.5 291.2L619.1 290.1L621.4 288.6L622.9 286.4L624.5 284.0L623.5 282.8L624.7 283.5L625.4 281.4L622.9 278.9L620.4 282.6L620.5 285.9L622.3 285.6L620.4 286.5L619.1 288.9L615.4 286.4L615.3 283.8L615.0 281.3L614.0 278.9L612.9 280.0L614.0 278.3L614.1 276.4L614.7 279.8L616.6 282.6L616.5 280.0L616.9 277.5L615.7 276.4L617.0 276.9L617.9 275.1M596.6 293.9L598.7 296.3L601.2 294.3L599.2 296.7L601.6 297.6L604.1 297.9L606.6 298.1L608.6 296.8L610.4 295.1M615.4 277.6L619.1 275.1L622.1 277.1L620.2 278.7L622.5 277.6L624.1 280.1L624.5 282.8L624.0 285.3L622.9 287.6L619.1 290.1M621.6 292.6L619.9 294.5L619.6 297.1L617.9 298.9L615.7 301.7L612.9 303.9L610.7 306.3L607.9 307.7L605.3 308.8L602.8 310.2L602.2 312.6L599.9 314.1L599.1 316.4L599.7 318.9L599.4 321.4L599.1 323.9L601.3 325.1L602.8 327.2L605.6 326.9L607.9 325.2L607.9 322.4L606.6 321.8L608.1 321.9L609.6 320.2L610.4 317.7L610.6 315.1L611.4 312.7L611.6 310.2L613.2 307.8L614.1 305.2M605.1 276.4L604.7 278.9L605.6 281.4M547.8 303.9L551.0 303.6L550.3 301.0L551.5 303.5L554.0 302.7L557.8 303.2M406.3 197.4L403.9 198.9L401.2 196.9L403.5 199.3L402.4 201.3L399.8 202.4L400.3 200.2L399.3 202.5L397.1 202.6L393.8 202.1L390.5 201.3L393.1 202.0L395.7 202.6L398.4 202.6L400.6 205.2L403.7 206.6L402.2 209.0L401.0 207.2L401.8 209.5L399.7 210.6L398.4 213.2L397.3 215.5L395.4 217.3L394.5 219.7L392.7 222.2L394.2 222.4L392.5 222.7L391.7 224.9L394.2 225.2L391.4 225.4L390.5 227.6L390.1 230.6L389.8 233.5L389.7 236.5L389.2 239.5L388.5 242.1L389.0 244.8L391.0 244.0L388.9 245.4L387.9 247.4L390.3 248.4L391.9 250.7L393.4 249.1L392.4 251.0L394.5 251.3L398.4 250.0L398.7 252.7L400.1 255.2L401.2 254.2L400.3 255.7L400.8 257.8L400.8 260.6L401.5 263.2L402.4 265.8L405.0 265.2L404.3 266.9L405.6 265.0L407.4 263.8L408.9 264.8L408.0 263.6L410.0 263.2M397.1 184.2L400.5 183.2L400.7 186.2L401.1 183.0L403.7 181.6L406.0 182.6L405.0 185.2L406.5 182.9L408.2 183.7L410.0 185.5L406.9 186.4L403.7 186.8L400.1 186.2ZM398.4 150.0L400.5 152.4L401.5 155.5L403.7 157.9L405.3 160.4L406.4 158.9L405.6 160.9L406.1 163.3L407.4 165.9L406.6 167.6L407.7 166.4L408.9 168.4L410.0 169.7M193.7 190.2L194.0 191.5L195.4 192.1L192.9 192.4L194.7 194.3L192.8 195.6L193.9 197.1L192.6 198.8L193.4 200.4L193.9 201.3L194.7 202.9L196.0 204.2L195.4 204.7L193.9 206.2L195.6 206.4L193.7 207.7L193.1 208.5L194.6 209.1L195.7 210.9L195.0 212.7L195.9 213.7L195.2 215.5L194.8 216.5L196.3 216.6L193.5 217.7L192.0 219.0L195.5 219.4L196.0 221.1L195.5 221.1L196.3 222.3L194.4 223.7L193.6 224.6L194.0 225.5L193.6 225.7L195.6 226.5L194.7 227.4L195.5 228.7L195.5 230.2L195.0 232.0L194.2 232.6L195.4 233.6L195.0 234.5L194.0 235.1L194.1 236.6L196.0 238.1L196.2 239.3L197.0 239.1L194.8 240.1L195.1 241.5L194.5 242.1L195.1 242.7L194.3 243.9L195.2 245.4M196.0 190.2L195.8 191.5L197.2 192.3L198.1 192.7L198.7 192.8L196.9 193.7L197.1 194.6L198.0 194.8L197.1 195.7L197.6 196.5L196.1 197.9L198.1 198.2L197.8 198.9L197.0 199.4L195.0 200.2L198.5 201.2L200.4 202.1L196.6 203.1L198.0 204.7L197.3 205.8L196.3 206.1L197.6 207.5L198.8 207.5L198.9 209.1L196.3 210.9L195.5 211.8L197.9 212.5L198.2 213.8L199.7 214.5L198.8 215.0L198.9 215.4L197.0 216.2L199.0 217.9L199.5 218.7L196.8 219.6L196.9 220.3L198.1 220.7L196.2 222.3L197.1 222.4L199.3 223.3L197.8 224.2L198.4 224.8L197.9 225.4L196.4 225.9L199.0 226.5L197.7 227.3L198.8 227.7L200.0 228.7L198.3 229.4L199.2 230.6L198.5 231.9L199.2 233.0L198.9 233.0L200.0 233.9L199.6 235.1L197.7 236.3L200.0 237.9L199.6 239.6L200.0 241.1L197.9 241.1L196.2 242.6L200.2 242.7L201.6 243.6L200.1 243.7L200.5 245.3M201.5 189.9L199.6 191.3L199.5 192.9L201.9 194.1L200.8 194.5L201.7 195.2L201.2 196.1L200.7 196.5L202.4 197.4L200.1 198.7L201.6 200.2L201.6 201.6L199.9 202.6L202.5 203.4L203.4 204.6L200.6 204.8L200.8 205.8L202.7 206.9L201.2 208.1L200.8 209.8L200.7 210.5L200.6 210.9L201.8 212.0L203.1 212.1L201.6 213.5L201.9 215.2L202.8 216.5L203.2 217.8L202.1 218.4L202.4 219.1L201.2 221.0L199.9 221.3L203.1 222.0L204.6 223.5L201.9 223.8L200.1 224.5L201.5 225.4L202.7 226.6L202.4 227.0L201.4 227.5L202.0 228.9L201.0 229.7L201.2 230.4L201.2 232.1L202.4 233.2L201.9 234.0L203.4 235.5L204.0 236.6L201.5 238.2L202.4 238.8L202.9 239.6L203.1 240.6L203.2 241.6L201.8 242.6L203.2 243.8L202.8 245.2L201.0 245.6M204.5 191.1L203.5 192.3L205.5 192.7L203.7 193.6L203.0 194.8L204.6 195.3L206.1 196.8L203.9 196.9L205.1 197.1L203.7 197.9L204.7 198.1L205.4 198.9L205.0 200.2L204.8 200.4L203.7 201.0L203.4 201.8L206.2 203.5L205.1 204.8L205.5 206.3L205.0 207.4L203.6 208.9L205.1 210.5L204.3 211.9L204.3 212.7L205.1 213.3L206.5 214.8L205.7 215.8L204.6 216.6L205.5 216.7L207.0 217.7L204.4 218.5L206.8 220.2L205.1 221.8L206.7 223.5L205.7 224.8L203.9 225.6L204.7 225.8L205.9 227.1L205.3 228.4L205.6 229.8L206.6 230.8L206.7 231.4L205.2 232.0L206.4 232.7L205.9 232.9L204.5 233.5L205.1 233.9L203.7 234.3L204.8 234.8L204.4 234.9L204.8 235.6L202.8 235.9L205.4 236.9L205.2 237.9L203.6 239.3L207.0 239.3L206.2 240.5L205.2 242.0L207.3 242.3L205.6 243.1L207.8 243.8L205.9 245.2L205.5 245.3L206.2 245.2M209.3 190.2L209.2 191.5L208.4 192.7L209.3 193.4L210.8 194.2L207.7 194.3L209.4 195.5L208.8 196.5L209.5 198.2L208.3 198.6L208.2 199.5L209.1 199.9L208.9 200.6L207.3 201.8L207.2 202.6L208.9 203.4L210.4 203.7L209.6 204.4L211.2 205.4L208.0 206.1L207.6 206.4L207.4 207.4L205.6 208.1L207.9 208.8L208.5 209.1L207.2 209.7L207.9 210.8L209.1 211.6L209.6 212.2L208.3 213.5L209.8 213.6L211.8 214.4L210.0 214.6L208.1 215.5L209.4 217.2L208.6 218.9L206.9 219.5L209.4 220.3L209.5 221.6L209.8 222.0L209.8 222.9L209.4 223.0L210.0 223.9L208.4 224.6L208.8 225.8L207.6 226.9L210.6 227.1L210.9 228.7L209.6 230.2L210.7 231.5L210.4 233.3L210.9 234.6L208.8 235.7L209.1 236.7L208.5 238.1L208.2 239.3M199.2 191.7L203.9 190.4L201.8 193.3M193.6 194.0L200.7 194.6L199.7 196.5M195.6 198.7L199.6 198.1L199.1 200.4M195.5 201.5L203.2 200.8L199.0 203.8M194.9 205.3L199.4 206.3L196.0 206.4M197.2 208.2L201.2 206.7L199.3 210.3M201.4 211.5L208.7 213.1L202.6 212.6M196.2 214.1L201.1 212.6L200.1 215.1M194.4 217.9L201.8 217.7L196.9 218.9M198.0 221.5L204.8 222.9L203.4 222.8M199.3 224.4L206.6 224.4L204.7 226.2M193.7 228.0L197.0 228.5L199.5 230.4M198.4 231.7L206.5 232.7L202.6 233.2M193.7 235.1L197.8 235.8L200.0 236.9M195.4 238.3L201.0 239.3L198.9 240.8M195.1 241.3L201.0 241.0L200.6 243.5M190.0 177.6L190.6 180.1L190.7 182.7L189.5 183.8L190.8 183.3L191.8 185.1L191.9 187.7L192.1 190.3L192.7 192.7L192.5 195.1L190.2 194.5L192.5 195.7L191.6 197.5L193.7 196.8L191.6 198.1L192.6 199.9L190.5 200.2L192.6 200.5L192.2 202.3L192.8 204.7L192.1 207.1L191.7 209.5L190.4 208.7L191.8 210.1L192.5 211.9L193.2 214.3L190.9 213.8L193.2 214.9L192.8 216.7L191.5 216.7L192.8 217.3L192.2 219.2L193.7 221.5L196.6 222.2L193.7 222.1L193.2 223.9L191.4 226.5L191.6 229.8L190.0 232.4L189.4 234.7L191.1 234.4L189.3 235.3L189.6 237.2L186.3 237.1L189.5 237.8L189.1 239.6L187.1 239.6L189.0 240.2L187.9 241.8L187.4 244.4L184.4 242.7L187.2 244.9L187.2 247.0L185.8 249.2L185.6 252.0L187.8 252.3L185.5 252.6L185.8 254.9L188.4 254.2L185.7 255.5L185.2 257.6L185.1 260.1L185.6 262.4L186.6 264.7L186.8 267.1L187.1 264.5L184.4 264.8L187.2 263.9L187.8 262.1L189.7 263.4L188.0 261.5L188.9 259.7L190.0 257.0L191.0 254.3L193.9 253.9L191.2 253.7L191.1 251.3L194.2 248.2M196.3 177.6L197.2 180.1L199.4 179.7L197.3 180.7L196.4 182.8L198.0 185.1L198.5 187.7L198.4 190.3L201.1 190.7L200.2 193.9L201.7 190.8L203.7 191.1L206.5 191.1L205.6 189.3L207.1 191.2L208.9 192.4L208.8 194.8L211.0 195.3L208.8 195.4L209.5 197.3L211.0 196.4L209.5 197.9L209.5 199.7L212.0 198.7L209.5 200.3L209.4 202.2L206.9 202.0L209.4 202.8L208.3 204.6L208.9 207.1L208.2 209.5L209.0 211.9L208.6 214.3L205.5 213.0L208.6 214.9L208.7 216.8L212.0 216.8L208.6 217.3L208.1 219.1L207.6 221.5L207.9 223.9L208.9 226.6L210.6 226.1L209.2 227.1L209.6 229.4L210.4 232.1L211.7 231.8L210.6 232.7L212.1 234.5L212.6 237.6L212.1 240.8L210.2 242.4L210.9 244.4L209.7 242.8L208.3 244.0L205.7 244.6L208.1 246.2L205.2 244.9L203.7 246.1M186.4 249.2L187.2 252.0L187.5 254.9L188.5 257.6L188.6 260.5L187.2 263.2L189.5 262.8L187.1 263.8L187.3 266.1M202.7 247.1L208.5 245.5L204.9 247.9L206.8 248.4L203.5 248.8L202.0 250.8L209.4 250.4L205.4 251.8L209.2 252.4L203.0 252.5L202.7 254.5L208.6 255.6L205.6 255.1L209.8 256.4L203.9 256.2L203.4 257.7L207.8 256.8L207.5 258.1L207.6 258.9L204.0 259.3L204.8 260.9L212.0 261.4L207.8 261.4L208.4 262.8L204.5 262.6L204.8 264.0L209.6 264.1L206.6 264.5L211.4 265.1L206.8 265.7L206.2 266.9L212.1 267.4L207.3 267.3L211.2 268.1L205.8 268.6L206.6 270.5L209.6 272.0L208.8 271.2L209.3 271.9L208.1 272.2L205.9 273.5L210.6 272.3L208.9 274.5L209.7 274.7L208.5 275.2L207.9 277.3L211.7 276.8L210.8 278.0L212.7 278.6L207.2 279.0L208.1 280.4L215.0 280.6L210.3 281.2L212.3 281.9L209.4 282.1L208.3 283.4L216.2 284.5L210.2 284.4L214.3 284.6L208.7 285.0L207.9 286.3L217.0 286.0L212.2 286.8L211.7 288.1L210.3 288.0L209.6 290.1L215.3 291.0L211.2 290.9L213.9 291.3L210.6 291.8L209.8 293.2L215.1 292.6L212.3 294.0L216.5 295.0L211.6 294.9L210.1 296.8L218.7 296.0L212.4 297.5L216.2 298.1L211.8 298.5L211.7 299.8L216.6 299.7L213.8 300.8L217.6 301.3L211.9 301.5L210.8 303.2L217.1 304.4L214.9 303.7L217.7 304.6L213.6 304.9L211.6 306.3L218.2 307.6L214.7 307.3L217.7 307.7L212.7 308.0L212.5 309.6L217.9 310.1L216.2 310.4L216.1 310.8L213.4 311.3M194.2 287.1L194.8 291.3L195.7 293.9L196.3 296.6L197.3 299.5L195.1 301.3L197.7 300.1L199.5 301.8L200.1 304.6L198.4 304.7L200.4 305.2L201.6 307.1L203.8 309.4L201.5 309.6L204.1 309.9L204.7 312.4L207.3 313.0L210.0 313.4L211.1 310.3L210.1 307.8L212.9 307.4L209.9 307.2L208.9 305.4L211.5 304.6L208.7 304.8L207.9 302.9L207.2 299.8L205.6 297.0L203.7 294.5L201.7 291.7L199.5 289.2L196.9 286.1ZM195.3 289.2L198.4 291.3L196.9 294.5L200.5 297.6L199.5 300.8L200.9 302.9L198.6 304.8L201.4 303.3L203.3 303.9L202.6 308.2L206.2 310.3M430.1 270.0L432.4 271.3L434.9 272.2L437.6 272.5L440.0 273.5L440.9 272.5L440.6 273.7L442.7 273.8L442.7 275.1L443.3 274.0L445.1 275.0L447.3 273.4L447.9 271.4L447.9 273.2L449.8 272.6L448.0 269.8L450.4 272.4L452.6 272.5L455.1 272.7L454.8 274.5L455.7 272.8L457.7 273.0L456.5 274.2L458.2 273.1L460.1 273.8L460.7 276.3L462.1 278.6L462.6 281.3L463.5 284.3L461.8 286.2L463.8 284.9L465.0 287.1L466.3 286.3L465.3 287.7L466.4 290.0L468.0 292.7L469.7 290.2L468.3 293.2L470.1 295.0L472.5 297.0L474.7 295.2L473.0 297.4L475.1 298.8L477.9 300.3L478.8 297.7L478.4 300.7L480.1 302.5L481.4 306.3L482.9 304.1L485.1 302.5L488.9 301.3L488.9 298.6L490.1 296.3L488.5 294.0L486.4 294.4L488.3 293.4L487.6 291.3L485.7 289.6L484.8 287.3L482.4 288.4L484.4 286.8L483.9 285.0L483.7 282.3L482.1 283.5L483.5 281.7L481.7 280.2L478.8 280.6L481.5 279.6L481.4 277.5L480.4 275.2L478.0 274.0L480.0 272.0L477.6 273.5L476.2 272.3L477.3 270.0L475.8 271.8L475.1 270.0M466.4 290.0L469.1 289.3L469.9 290.8L469.7 289.0L471.4 287.5L475.1 289.5L472.6 291.0L473.5 293.7L472.1 291.3L470.1 292.5ZM575.0 270.0L567.8 275.0L562.8 285.0L559.0 297.5L556.5 310.1L555.2 318.8L557.7 310.1L561.5 297.5L567.8 285.0L575.0 277.5M548.2 303.8L551.6 302.6L551.4 304.7L552.2 302.4L555.2 302.5M206.7 313.9L205.3 318.0L204.4 321.5L204.0 325.0L203.9 328.5L203.2 332.0L201.9 334.6L201.2 337.5L199.8 341.7L198.9 344.5L197.1 347.0L196.5 350.0L198.7 350.2L196.3 350.5L195.6 352.8L194.9 355.9L192.2 358.1L194.4 358.7L191.9 358.6L191.4 361.2L190.1 363.6L187.4 364.6L185.9 366.8L183.0 369.5L183.2 372.4L182.8 375.2L181.7 377.9L181.4 380.9L179.4 383.3L178.3 382.1L179.2 383.9L178.9 386.2L177.5 389.0L176.6 392.0L174.7 394.6L172.5 398.0L173.3 400.0L173.3 402.6L174.4 405.0L176.0 403.8L174.5 405.5L175.0 407.4L175.0 410.0L175.0 412.7L176.3 415.0L176.7 417.5L177.5 420.0L177.2 422.5L176.7 425.0L179.2 428.3L178.6 431.2L180.3 430.4L178.6 431.8L178.3 434.1L178.9 437.1L178.3 440.0L179.0 442.9L180.1 445.7L180.5 448.7L180.8 451.7L180.2 454.2L180.9 456.7L179.7 459.2L180.0 461.7L181.0 464.5L184.0 464.3L181.2 465.1L181.5 467.5L183.3 470.0L180.8 471.7L183.6 473.0L186.7 473.3L190.0 471.7L192.8 473.9L195.0 476.7L196.5 478.6L197.8 480.6L199.1 479.5L198.2 481.1L198.8 482.8L200.0 484.9L201.7 486.7L201.7 489.4L202.2 491.9L203.2 494.3L204.2 496.7L204.8 499.3L204.7 502.0L205.3 504.6L205.1 507.3L205.0 510.0M206.7 313.9L209.4 311.6L212.3 309.7L215.2 309.8L217.7 308.2L220.6 308.3L221.7 311.3L223.4 313.9L224.5 316.6L227.2 315.1L224.8 317.1L226.0 319.0M204.5 498.5L207.5 499.0L210.3 500.5L213.3 500.8L216.4 501.4L219.2 502.6L219.2 504.6L219.8 502.8L222.0 504.0L224.3 505.0L224.4 503.5L224.7 505.4L226.0 506.8L227.7 508.6L230.2 509.4L232.0 511.0L233.9 512.7L236.0 513.9L238.6 514.2L240.6 515.8L241.8 513.6L241.1 516.1L242.8 516.8L245.0 518.0L247.4 519.6L250.4 519.6L252.9 520.8L255.3 522.3L254.3 525.4L255.8 522.5L258.0 523.0L260.4 523.6L262.7 524.2L264.0 522.2L263.3 524.4L265.1 524.8L267.2 526.0L269.8 525.9L272.0 527.0L275.0 527.8L278.0 526.8L281.0 527.0L283.4 526.1L285.0 524.0L287.7 523.7L290.3 524.4L293.0 524.1L295.7 524.3L298.3 524.7L301.0 524.0L303.3 526.1L306.0 527.6L308.0 530.0L309.9 532.4L311.6 535.1L314.0 537.0L314.4 540.0L316.7 542.2L316.4 545.5L318.0 548.0L318.7 550.7L320.1 553.0L322.0 555.0L325.0 556.2L327.1 558.7L330.0 560.0L332.6 558.6L335.0 557.0L337.3 554.5L340.0 552.5L342.4 553.2L345.0 553.3L346.1 551.6L345.6 553.4L347.3 554.2L349.6 555.3L352.0 556.0L353.9 558.4L356.4 560.4L358.0 563.0L359.2 565.7L360.7 568.2L362.8 570.3L364.0 573.0L364.9 575.6L361.7 576.6L365.3 576.1L367.6 577.1L368.3 579.9L370.0 582.0L371.3 584.5L371.8 587.4L373.4 589.7L375.0 592.0L377.8 593.6L380.0 596.0L382.8 596.1L385.6 596.1L388.4 596.2L388.3 597.8L389.0 596.2L391.2 596.3L394.0 597.0M204.5 495.0L204.8 497.5L205.0 500.0L205.2 502.5L205.2 505.0L206.1 507.5L208.8 507.0L206.2 508.1L206.0 510.0L206.3 512.5L206.2 515.0L206.8 517.5L206.5 520.1L208.3 522.4L207.6 525.1L208.1 527.5L208.8 530.0L210.5 532.4L212.4 534.8L213.8 537.5L215.1 540.1L216.3 542.9L218.6 544.9L220.0 547.5L218.4 549.3L217.3 551.5L216.2 553.8L213.5 553.9L211.3 555.6L208.8 556.2L211.7 558.3L213.8 561.2L215.3 563.5L213.9 564.8L215.7 563.9L217.7 564.8L219.5 566.7L221.2 568.8L222.4 571.3L224.6 572.9L226.2 575.0L228.0 577.4L229.0 580.2L231.1 582.4L232.5 585.0L233.1 587.5L233.3 590.0L233.8 592.5L232.7 595.1L231.2 597.5L233.0 599.8L234.4 602.2L235.0 605.0L238.0 607.0L240.0 610.0L242.4 611.2L244.6 612.8L246.2 615.0L247.2 617.3L248.2 619.5L250.0 621.2L251.8 623.2L253.8 625.0L255.1 622.1L257.5 620.0L256.2 618.0L255.3 615.6L253.8 613.8L252.3 611.3L249.4 612.5L252.1 610.8L251.2 608.8L248.8 605.0L248.9 602.3L250.4 603.1L248.7 601.7L247.8 599.9L246.3 597.7L246.2 595.0L244.5 592.7L244.0 589.9L242.5 587.5L241.8 585.0L241.4 582.5L240.6 580.1L241.2 577.4L240.0 575.0L239.0 572.6L237.1 570.9L236.0 568.6L235.0 566.2L233.4 563.7L233.4 560.5L231.3 561.0L233.2 560.0L232.1 557.8L231.2 555.0L230.5 552.4L229.2 550.1L229.0 547.3L227.5 545.0L226.3 542.5L224.5 540.2L224.0 537.4L221.4 538.7L223.8 536.8L222.5 535.0L221.1 532.7L221.1 530.0L220.7 527.5L220.0 525.0L219.7 522.5L220.4 520.0L219.5 517.5L220.3 515.0L220.5 512.5L221.2 510.0L223.0 511.8L225.2 512.9L227.5 513.8L229.1 516.0L231.8 516.9L233.8 518.8L235.9 521.0L237.5 523.8L238.4 526.4L238.2 529.1L237.9 531.9L241.0 530.6L238.0 532.5L238.5 534.5L238.6 537.2L239.8 539.8L240.0 542.5L241.8 544.7L243.1 547.2L244.3 549.7L245.1 552.5L246.2 555.0L248.1 557.0L249.2 559.5L250.6 557.6L249.5 560.0L250.7 561.7L252.5 563.8L253.3 566.5L253.1 569.5L254.5 572.2L255.0 575.0L256.7 577.3L259.0 579.0L261.1 580.9L263.0 583.0L261.3 585.3L263.5 583.4L265.0 585.0L264.8 587.7L263.3 590.0L262.5 592.5L265.3 593.7L267.6 595.7L270.0 597.5L271.2 599.7L270.0 601.8L271.6 600.2L272.6 601.7L271.3 603.5L273.0 602.1L274.4 603.4L276.2 605.0L277.2 607.9L279.9 609.7L281.5 612.2L282.5 615.0L284.0 617.0L285.9 618.7L287.0 621.0L288.8 622.8L290.0 625.0L291.9 626.6L293.0 628.9L294.4 630.9L296.2 632.5L296.7 635.0L297.3 637.5L300.6 637.3L297.5 638.1L297.4 640.1L298.3 642.5L298.8 645.0L300.0 647.9L302.5 650.0L301.8 653.3L300.0 656.2L298.1 657.9L296.2 659.8M285.0 643.8L287.5 647.5L289.0 649.5L286.7 649.9L289.2 650.1L289.5 652.0M394.0 597.0L394.5 593.5L395.5 590.0L394.9 587.2L393.0 584.9L392.5 582.0L393.0 579.3L394.6 576.9L394.5 574.0L396.1 571.8L397.3 569.4L398.8 567.1L399.8 568.4L399.1 566.6L400.5 565.0L402.9 563.4L405.4 562.1L407.1 559.6L409.5 558.0L412.1 556.7L414.8 555.5L416.9 553.3L419.5 552.0L422.1 550.9L424.7 549.9L427.5 549.5L429.9 548.6L430.2 551.0L430.5 548.6L432.5 548.5L435.0 549.2L437.6 549.4L440.0 548.5L442.4 549.4L445.2 549.1L445.3 546.9L445.8 549.2L447.5 550.5L449.8 551.4L450.7 549.4L450.4 551.5L452.1 552.5L452.4 554.3L452.7 552.7L454.8 552.1L457.0 553.5L459.9 552.5L463.0 552.2L466.0 551.5L468.8 551.7L471.4 550.8L469.9 548.0L472.0 550.7L474.0 550.0L475.0 547.4L474.8 544.5L476.0 542.0L474.5 537.5L476.6 536.4L478.9 535.5L480.5 533.5L482.9 532.9L485.1 531.5L487.6 531.3L490.0 530.5L492.8 530.5L495.2 528.6L498.0 528.5L500.9 529.0L503.2 531.0L506.0 531.5L509.0 532.5L512.0 533.5L514.5 532.6L517.0 531.5L520.0 528.5L522.4 527.9L522.1 529.4L522.9 527.7L524.8 527.6L527.0 526.5L529.4 528.9L532.5 530.5L534.4 532.7L535.3 535.4L536.5 538.0L537.1 540.8L538.2 543.4L539.5 546.0L541.2 548.3L542.3 551.1L544.5 553.0L546.6 554.4L544.9 554.7L547.0 554.8L547.8 556.7L550.0 558.0L551.5 560.0L553.0 562.5L555.9 563.6L557.5 566.0L560.0 567.8L562.0 570.3L564.5 572.0L565.5 574.9L567.0 575.0L565.6 575.5L565.5 578.0L564.8 580.4L563.8 582.7L562.0 584.5L564.6 583.3L563.6 580.6L565.1 583.0L567.1 582.0L570.0 581.5L571.5 579.3L572.7 576.9L574.2 574.6L576.5 573.0L576.6 570.2L576.3 567.4L578.0 564.8L577.5 562.0L576.4 559.6L575.6 557.1L575.5 554.4L574.5 552.0L572.6 550.1L570.1 550.5L572.3 549.6L571.2 547.9L570.3 545.4L569.1 543.1L567.5 541.0L566.3 538.7L564.8 536.6L562.7 535.0L561.1 533.0L558.8 534.6L560.7 532.5L559.5 531.0L558.5 528.7L557.0 531.2L558.1 528.2L556.1 527.6L554.5 529.5L555.7 527.1L554.9 525.4L553.4 523.6L551.5 522.0L550.6 519.3L547.8 517.9L545.3 519.2L547.5 517.4L546.5 515.6L545.5 513.0L545.6 510.4L543.7 511.7L545.6 509.8L544.4 507.9L545.5 505.2L544.4 502.6L544.5 500.0L545.4 497.6L545.6 495.0L546.2 492.5L546.5 490.0L548.0 487.6L549.3 485.0L550.4 482.4L552.0 480.0L553.5 478.0L554.6 475.7L556.5 474.0L557.9 471.9L559.5 470.0L560.4 467.5L561.9 465.4L563.8 463.5L564.9 461.1L566.8 459.3L567.5 456.7L569.5 454.5L571.6 452.4L574.2 450.8L576.0 448.3L577.0 445.6L577.3 442.7L578.0 440.0L576.2 438.0L575.2 435.3L572.9 433.6L572.0 430.9L570.3 428.8L568.5 426.7L568.7 423.8L567.5 420.9L567.4 418.0L568.0 415.0M462.0 545.0L464.0 546.4L465.6 548.3L468.0 549.0L466.9 546.4L466.1 543.8L466.0 541.0L466.9 543.6L468.6 545.7L469.6 548.2L470.2 550.9L472.0 553.0L473.6 550.2L473.9 547.0L475.0 544.0L475.3 546.9L477.5 549.1L478.0 552.0L475.6 550.1L472.5 549.6L470.0 548.0L472.0 545.8L472.6 542.7L474.3 540.4L476.9 542.2L474.6 539.9L476.0 538.0M568.0 398.3L568.2 395.7L567.2 393.0L567.8 390.3L565.8 390.7L567.8 389.7L568.3 387.7L568.0 385.0L568.5 382.6L565.8 382.0L568.7 382.0L569.4 380.4L570.8 378.3L572.7 375.0L575.4 373.2L577.2 370.7L579.3 368.3L582.6 367.1L582.3 365.2L583.2 366.9L586.0 366.3L587.7 364.0L588.9 365.1L588.0 363.5L589.3 361.7L586.7 359.2L583.3 360.8L582.8 357.9L582.7 355.0L580.6 352.6L579.2 349.9L578.0 347.0L578.4 344.3L579.3 341.8L576.3 341.5L579.5 341.2L580.7 339.4L581.0 336.7L583.3 335.1L585.1 336.1L583.6 334.6L584.7 332.8L586.1 330.5L587.7 328.3L588.4 325.7L586.6 325.7L588.4 325.1L588.9 323.1L591.0 324.4L588.9 322.5L588.3 320.3L586.1 319.1L587.5 317.7L585.7 318.7L584.6 317.2L583.1 315.3L581.3 313.7L579.4 311.9L578.3 309.5L577.3 307.1L575.3 305.3M562.0 398.0L560.8 400.2L560.9 402.7L560.0 405.0L560.9 407.4L562.6 409.4L563.0 412.0L561.8 414.1L564.3 415.2L561.5 414.6L560.6 416.2L559.0 418.0L560.9 419.8L561.8 422.5L564.0 424.0L562.6 427.1L561.0 430.0L563.6 428.7L566.0 427.0L564.9 424.7L563.6 422.5L563.0 420.0L564.3 418.0L565.5 415.9L567.0 414.0L565.3 411.6L565.7 408.4L564.0 406.0L565.6 404.2L566.6 402.0L568.0 400.0L568.0 402.6L566.7 404.9L566.3 407.5L563.8 407.0L566.2 408.0L566.0 410.0L567.3 412.6L568.5 415.1L569.0 418.0M570.0 430.0L571.2 432.1L572.8 431.2L571.5 432.6L572.5 434.1L574.0 436.0L572.4 438.4L571.0 441.0L573.6 442.9L576.0 445.0L573.9 446.9L572.0 449.0L573.1 446.6L575.2 444.9L576.0 442.4L578.7 442.7L576.3 441.8L577.0 440.0L576.3 437.3L574.0 435.5L573.0 433.0M560.0 396.0L562.0 398.8L563.0 402.0L561.0 404.5L558.0 403.1L560.6 404.9L559.0 407.0L560.8 409.2L563.0 411.0L561.0 413.2L560.0 416.0L561.5 418.5L564.0 420.0L563.2 423.3L561.0 426.0L563.5 427.5L561.1 428.8L563.9 427.9L565.0 430.0L564.0 427.4L564.3 424.5L563.0 422.0L565.0 419.3L566.0 416.0L564.9 413.7L563.7 411.5L563.0 409.0L565.4 406.8L567.0 404.0L565.1 401.2L562.1 402.4L564.8 400.7L564.0 398.0L566.3 397.0L568.0 395.0M556.0 400.0L556.4 402.7L556.9 405.4L558.0 408.0L557.5 411.2L556.0 414.0L557.8 416.8L559.0 420.0L557.5 422.8L557.0 426.0M572.0 436.0L573.8 437.9L576.3 439.0L578.0 441.0L575.4 443.0L574.0 446.0L576.5 445.0L579.0 444.0L578.3 446.7L576.0 448.5L575.0 451.0L572.8 449.2L571.0 447.0M393.8 597.5L393.7 600.0L392.9 602.5L392.9 605.0L392.0 607.4L392.4 610.0L392.6 612.6L392.0 615.0L392.2 617.6L391.2 620.0L390.9 622.5L391.1 625.0L391.2 627.5L391.4 630.0L390.9 632.5L390.2 635.0L390.0 637.5L387.0 638.2L389.9 638.1L390.0 640.0L390.5 642.7L391.4 645.2L392.6 647.6L393.8 650.0L394.9 652.4L396.7 651.1L395.0 653.0L395.4 654.9L395.8 657.5L396.2 660.0L397.6 662.5L398.6 665.2L399.0 668.0M477.0 652.0L477.8 649.5L478.5 647.0L478.5 644.3L480.0 642.0L482.3 640.6L481.3 637.8L482.9 640.3L484.8 639.6L487.4 638.7L489.8 637.6L492.6 637.2L495.0 636.0L497.5 635.8L496.5 633.2L498.1 635.8L500.0 635.7L502.5 634.9L505.0 635.9L504.6 637.7L505.6 635.9L507.5 634.5L510.0 635.0L512.7 635.9L515.0 637.4L517.3 639.2L520.0 640.0L520.9 642.4L521.4 644.9L521.6 647.4L520.9 650.1L522.1 652.4L519.4 653.8L522.2 653.0L522.0 655.0L521.6 657.6L521.5 660.4L520.2 662.8L519.7 665.4L519.0 668.0M543.8 615.2L545.9 613.8L546.9 611.3L549.5 610.4L551.0 608.4L552.5 606.5L555.0 605.1L557.4 603.6L560.3 603.2L560.4 600.9L560.9 603.0L562.6 601.4L564.8 599.7L567.7 599.6L570.1 598.3L569.8 596.3L570.6 598.0L572.4 596.8L575.2 596.5L577.6 595.2L580.0 594.2L582.6 594.6L585.1 594.4L586.0 597.0L585.7 594.3L587.6 594.2L590.1 594.8L591.4 597.5L590.7 594.7L592.6 593.4L595.1 593.9L597.6 593.5L600.1 593.4L602.6 593.2L603.9 595.4L603.2 593.1L605.1 592.9L607.6 592.5L610.1 592.7L612.7 593.0L615.0 594.5L617.5 595.0L620.2 595.2L622.8 595.3L622.8 593.0L623.4 595.5L625.2 596.6L627.8 597.1L630.2 598.2L632.7 598.9L635.1 599.8L637.7 598.9L640.2 599.3L639.9 597.1L640.8 599.4L642.7 599.8L645.2 599.1L647.7 599.4L650.2 600.2L652.7 600.3L652.9 602.3L653.3 600.2L655.1 598.9L657.7 599.0L657.8 600.4L658.3 598.9L660.2 598.6L662.7 598.9L665.9 599.4L669.0 600.2L668.1 602.5L667.1 604.7L665.2 606.5L662.5 607.9L659.4 608.3L656.5 609.0L653.8 607.5L653.2 608.7L653.3 607.3L650.9 606.7L648.0 606.1L645.2 605.2L642.7 605.7L640.2 605.9L637.7 606.5L635.2 607.2L632.8 607.9L630.2 607.7L627.7 608.3L625.3 609.6L622.7 609.6L620.2 610.2L617.6 609.6L615.3 607.9L612.6 607.7L610.3 606.5L607.8 606.1L605.1 606.5L602.7 607.5L600.1 607.5L597.4 607.6L595.1 609.0L592.7 608.2L590.0 609.1L587.5 608.7L585.1 607.8L582.6 607.7L579.7 608.2L576.8 609.2L573.8 609.0L570.1 606.5L567.8 607.9L565.0 607.9L562.6 609.0L560.5 611.2L557.1 611.7L555.1 614.0L552.6 615.7L549.9 617.0L547.5 619.0L543.8 620.2L544.0 617.7ZM586.3 546.4L588.5 545.2L590.3 543.4L592.6 542.6L595.3 542.5L597.9 541.7L600.1 540.1L603.1 541.3L606.4 541.4L606.0 544.5L606.4 547.6M611.4 551.4L613.8 552.5L616.3 552.8L618.9 552.6L620.4 555.4L622.7 557.6M627.7 557.6L630.3 558.2L632.5 559.8L635.2 560.1M621.4 565.1L624.1 566.9L627.5 567.2L630.2 568.9L632.7 568.2L635.1 567.0L634.0 565.7L635.7 566.8L637.7 566.4L639.7 564.5L641.3 562.3L642.1 559.6L643.9 557.6M637.7 570.2L640.4 570.2L642.7 571.6L640.6 574.2L643.3 571.8L645.2 572.7M652.7 570.2L654.0 573.1L656.5 575.2L657.4 572.5L656.2 571.7L657.6 571.9L659.0 570.2M660.2 567.6L662.7 567.7L665.2 567.3L667.7 567.4L670.2 567.6M669.0 587.7L670.8 585.4L673.7 586.4L671.0 584.9L671.9 582.9L672.7 580.2L675.2 581.4L674.5 584.5L674.0 587.7L671.5 588.2ZM678.2 571.4L678.2 573.9M637.7 642.8L638.6 640.1L640.2 637.8L642.6 636.9L645.2 637.2L647.7 637.0L650.2 636.5L650.2 639.2L651.4 641.5L648.5 642.7L645.3 643.4L642.7 645.3L639.9 644.6ZM561.3 583.9L564.4 583.0L567.2 581.6L570.1 580.2M600.1 552.6L602.1 556.4M121.3 0.0L121.9 2.8L123.8 5.0L123.3 7.5L120.7 6.0L123.2 8.1L122.4 10.0L122.0 12.5L124.6 11.3L127.6 11.4L127.6 13.0L128.1 11.3L130.1 10.0L132.6 8.9L134.2 6.6L136.3 5.0L138.5 3.9L139.4 7.3L139.0 3.6L140.5 2.4L142.5 3.8L141.0 2.1L142.6 1.3L142.1 3.8L141.3 6.3L143.6 8.3L146.6 9.2L145.6 11.3L147.1 9.6L148.8 11.3L151.3 11.3L150.6 8.7L151.9 11.3L153.8 11.0L153.7 12.4L154.4 11.0L156.3 11.3L154.6 13.5L153.2 15.9L152.6 18.8L151.2 21.6L150.8 24.9L152.8 24.7L150.6 25.5L148.8 27.5L148.1 30.0L146.2 28.5L148.0 30.6L147.2 32.5L146.8 35.0L149.0 36.8L146.7 35.6L146.3 37.6L148.8 41.3L152.0 41.1L150.9 38.1L152.6 41.0L155.1 40.1L156.5 42.4L158.9 43.8L162.6 41.3L164.0 44.2L161.7 45.3L164.3 44.7L166.4 46.3L168.0 44.3L168.6 41.8L166.3 39.3L168.9 41.3L170.2 39.8L171.4 37.6L169.8 35.3L167.2 35.0L169.6 34.7L169.9 32.5L167.3 32.8L169.7 31.9L168.9 30.0L171.3 28.0L169.2 27.7L171.7 27.5L172.6 25.0L174.0 22.7L171.3 22.4L174.2 22.1L174.3 20.0L171.8 18.8L174.5 19.4L175.2 17.4L176.4 15.0L178.3 13.2L179.5 11.0L181.4 12.5L179.8 10.5L180.6 8.7L179.0 6.6L180.9 8.2L181.4 6.3L182.5 3.7L180.2 2.9L182.8 3.2L185.2 2.4L182.6 1.7L185.5 2.0L186.4 0.0M151.3 11.3L154.1 10.1L155.0 11.3L154.6 9.9L157.0 9.5L155.3 7.0L157.6 9.3L160.0 8.9L162.6 7.5L165.3 6.6L168.2 7.0L168.8 5.7L168.8 6.9L170.8 5.4L173.7 5.9L176.4 5.0L180.1 6.3M162.6 30.0L166.4 27.5L167.8 30.4L170.1 32.5M147.1 37.6L150.1 39.6L148.1 40.6ZM140.1 48.8L142.6 46.3L143.8 49.4L144.6 52.6L143.3 54.9L145.7 56.4L143.1 55.5L143.1 57.6L145.1 57.2L143.0 58.1L142.6 60.1L140.6 56.3L141.0 53.8L139.8 51.4ZM200.2 0.0L200.5 2.6L203.2 1.4L200.7 3.2L201.4 5.0L205.2 6.3L204.8 3.7L207.7 3.2L204.8 3.1L205.7 1.3M112.5 50.8L113.5 51.8M205.7 11.5L206.4 12.5M113.8 75.1L116.8 74.0L115.6 72.2L117.4 73.8L120.0 73.9L123.8 76.4L127.6 77.6L131.3 75.1L133.8 72.6L136.2 74.0L137.6 76.4L140.1 75.1L143.8 72.6L147.6 73.9L150.1 77.6L153.8 77.6L156.3 81.4L160.1 80.1L162.6 83.9L165.1 82.6L168.9 80.1M117.5 77.6L121.3 76.4L122.6 78.7L122.5 81.4L119.5 83.9L117.9 80.9L115.4 82.0L117.7 80.4ZM127.6 82.6L131.3 80.1L133.2 81.9L132.4 83.8L133.7 82.4L135.1 83.9L132.9 86.2L131.3 88.9L127.6 87.6L127.6 85.1ZM130.1 83.9L132.1 86.4M158.9 62.6L159.6 60.2L161.5 60.7L159.9 59.7L161.0 58.2L159.6 57.0L161.3 57.7L162.6 56.3L166.4 55.1L170.1 53.8L173.9 56.3L176.4 58.8L177.3 61.3L180.3 60.2L177.5 61.9L178.1 63.8L180.1 67.6L182.1 65.1L183.9 62.6L184.6 60.1L185.1 57.6L186.4 53.8L188.1 51.3L190.2 48.8L193.9 51.3L197.2 52.2L198.3 51.1L197.7 52.4L200.2 53.8L202.8 53.9L201.7 57.1L203.4 54.1L205.0 55.6L207.7 55.5L209.3 53.2L208.3 55.7L210.2 56.3L212.6 57.2L211.9 59.4L213.2 57.4L215.2 57.5L217.5 58.8L220.2 58.8L221.8 60.7L223.8 62.2L224.7 64.6L226.5 66.3L227.8 69.2L229.7 71.9L230.2 75.1L231.0 77.8L228.6 79.7L231.3 78.4L232.8 80.1L234.5 79.9L233.0 80.6L234.6 82.3L235.2 85.1L236.9 87.4L239.2 87.3L237.1 88.0L237.1 90.5L239.2 92.5L240.5 92.1L239.4 93.1L240.3 95.1L241.5 97.6L242.9 100.1L241.4 102.0L243.1 100.6L243.9 102.7L241.7 103.3L244.1 103.3L245.2 105.2L247.9 103.0L245.5 105.7L246.5 107.7L250.2 110.2L251.8 112.4L253.9 112.7L251.9 113.0L252.3 115.0L252.7 117.7L254.1 119.7L251.5 120.0L254.4 120.2L255.0 122.0L256.5 123.9L259.6 123.1L262.8 122.7L266.5 120.2L270.0 121.4M161.4 58.8L165.1 60.1L164.0 62.5L165.2 63.2L163.8 63.1L163.9 65.1L167.6 67.6L165.1 71.4L166.3 68.9L168.5 69.8L166.7 68.4L168.4 67.1L169.7 69.0L168.8 66.6L169.4 64.5L171.4 62.6L170.8 65.7L170.1 68.9L172.7 69.9L175.1 71.4L172.6 75.1L175.8 75.3L178.9 75.1L177.9 72.7L176.7 70.3L176.4 67.6L178.3 69.3L176.5 71.2L178.8 69.7L180.6 70.6L182.6 66.3M186.4 56.3L188.9 60.1L189.8 56.8L191.4 53.8L192.8 56.1L195.9 55.9L192.9 56.7L192.7 58.8L195.2 55.1M116.3 102.7L119.0 104.3L117.8 106.8L119.5 104.6L121.3 106.4L120.3 109.0L118.8 111.4L121.2 112.8L123.8 113.9L125.1 116.3L123.4 119.4L125.6 116.8L127.6 117.7L127.0 120.5L129.0 121.0L126.7 121.1L125.1 122.7L122.4 122.5L120.0 121.4L116.3 123.9M113.8 76.4L113.3 79.3L113.0 82.2L110.1 81.7L112.9 82.8L112.5 85.1L113.7 87.9L116.4 87.9L113.8 88.5L113.5 91.0L113.8 93.9L115.4 96.6L117.7 95.6L115.8 97.0L117.5 98.9L116.3 102.7M40.2 68.9L43.2 68.9L41.3 72.3L42.5 72.3L42.6 76.1L43.2 75.1L43.1 77.6L41.3 76.7L42.9 78.2L41.9 79.8L44.4 78.9L46.4 77.5L47.0 80.5L46.5 83.6L48.3 82.5L46.1 84.1L50.0 84.2L47.9 88.1L50.8 88.4L51.7 90.7L51.4 93.2L55.1 92.0L54.3 95.6L57.5 93.7L58.7 96.8L60.3 95.9L58.8 97.4L58.8 100.1L62.0 98.0L59.1 99.8L62.8 98.2L62.8 100.8L63.9 103.1L68.0 102.1L68.2 105.0L67.7 107.8L67.8 103.6L69.0 106.2L70.8 108.5L73.0 107.3L75.4 106.7L72.4 108.6L71.6 106.7L72.0 109.0L70.5 111.6L72.9 110.4L75.1 108.8L77.9 108.5L75.9 110.8L74.2 108.0L75.5 111.2L73.5 112.6L76.6 112.1L75.9 113.6L77.2 112.2L79.5 113.0L80.3 111.1L80.1 113.0L82.6 113.0L79.8 113.4L80.6 116.5L79.3 113.6L77.3 114.6L79.7 113.2L79.1 111.8L80.2 112.9L82.0 111.9L83.7 113.9L84.3 116.6L87.9 116.1L85.8 118.7L83.3 117.4L85.5 119.2L84.7 121.9L87.4 121.1L85.7 119.4L87.9 120.8L89.6 119.3L88.3 122.5L91.3 121.3L93.2 124.0L91.8 121.0L94.1 119.6L95.7 121.8L94.4 122.4L95.9 122.4L96.5 124.3L96.9 126.9L98.6 125.3L96.5 127.1L99.6 126.1L102.8 126.9L102.5 125.2L103.4 126.8L105.9 125.9L103.4 127.6L105.1 128.7L102.9 128.0L101.3 129.7L99.9 132.3L101.6 129.7L104.6 131.2L102.0 129.2L104.3 127.9L106.1 125.3L106.8 127.8L103.9 129.5L107.0 128.3L107.8 130.1L109.5 128.2L112.1 129.1L109.8 127.7L110.6 125.9L110.2 128.7L108.7 131.0L107.5 133.4L110.7 132.0L113.9 130.7L112.6 134.6L114.8 133.7L114.2 135.1L115.4 133.5L117.4 133.9L119.5 132.5L121.9 132.0L119.7 134.0L119.3 137.2L117.2 139.3L118.6 136.9L118.5 134.0L120.2 131.9L120.9 134.2L121.0 136.7L122.1 135.8L121.2 137.3L122.8 138.7L125.9 137.2L123.0 139.3L122.7 141.3L122.5 138.7L123.6 136.3L123.7 133.8L124.4 136.3L121.1 136.3L124.4 136.9L124.7 138.9L124.7 141.5L124.2 144.1L126.0 141.0L127.9 143.8L129.6 140.7L130.2 137.2L129.7 139.8L127.9 141.8L128.9 143.1L127.6 142.3L127.2 144.3L125.6 146.4L123.9 145.9L125.4 146.9L124.4 148.6L127.0 146.8L129.4 144.9L130.5 148.3L129.9 144.5L132.0 143.0L130.9 146.1L130.0 144.4L130.6 146.6L129.3 148.9L131.9 147.5L130.2 144.8L132.4 147.1L133.9 145.4L135.9 147.4L134.3 145.0L135.9 143.3L137.9 141.3L136.9 143.6L138.7 146.3L136.5 144.1L135.5 145.7L136.3 147.1L135.1 146.2L133.3 147.3L132.0 149.5L133.8 147.1L136.1 145.0L137.4 142.1M123.0 121.0L121.9 118.5L120.3 116.3L119.0 114.0L118.1 111.6L120.1 110.9L117.9 111.1L117.1 109.3L119.1 108.8L116.9 108.7L116.0 107.0L115.7 104.4L114.7 105.1L115.5 103.8L113.9 102.4L113.0 100.0L114.7 101.9L116.3 102.0L115.0 102.4L116.0 104.0L117.8 106.3L116.6 108.1L118.1 106.8L119.0 109.0L120.2 112.0L122.1 111.6L120.5 112.5L122.4 114.3L124.3 114.1L122.7 114.8L124.0 117.0L125.7 119.0L127.6 117.3L126.1 119.3L128.0 120.0L125.0 121.6L126.6 122.3L124.5 121.8L122.0 123.0L119.5 122.8L117.0 123.5L114.4 123.1L112.0 124.0L109.3 123.6L107.0 122.1L106.6 125.5L106.4 121.9L104.3 121.4L105.4 119.2L103.8 121.2L102.0 120.0L99.8 118.1L100.3 115.1L99.2 117.8L97.4 116.4L98.9 114.3L96.9 116.1L94.6 115.3L92.0 114.0M118.5 142.9L120.1 145.0L120.7 145.3L118.8 142.0L121.1 142.8L121.0 141.1L121.7 143.0L123.3 144.0L124.0 140.1L123.2 141.6L124.3 144.7L123.1 142.3L124.4 145.2L125.0 148.3L127.0 145.8L125.2 145.5L127.3 145.2L127.9 142.7L128.9 143.0L129.0 143.3L127.8 146.4L125.8 146.9L127.7 147.0L127.4 149.7L127.8 147.1L129.1 148.0L128.0 146.5L129.2 144.9L131.3 147.6L133.1 150.6L131.2 151.7L133.1 149.9L132.7 152.4L135.5 153.1L136.2 150.6L134.5 149.0L136.4 150.0L137.2 148.2L135.9 147.6L135.9 147.2L136.8 149.5L137.4 151.9L137.1 153.0L139.4 150.5M139.3 137.8L138.2 138.3L140.7 135.3L142.7 135.4L143.1 138.9L142.7 142.4L140.7 142.4L143.1 141.1L142.6 137.3L143.1 139.8L143.8 142.4L145.2 141.7L143.9 142.9L144.2 145.0L145.2 143.8L149.0 145.7L147.6 141.4L149.3 145.2L148.5 145.4L152.2 146.7L150.1 147.8L151.3 143.3L152.5 146.0L150.1 146.6L152.8 146.5L154.3 148.4L154.1 148.8L154.8 146.5L155.9 144.4L155.9 143.7L155.9 143.9L156.9 146.3L154.0 146.5L157.2 146.9L158.5 148.5L161.0 146.9L158.7 149.1L159.2 151.1L158.4 148.8L160.1 147.8L158.4 148.2L158.9 146.2L158.1 143.9L159.7 146.5L162.3 148.2L160.9 146.2L162.3 148.6L160.9 149.2L162.5 149.2L162.6 151.4L163.0 148.5L162.3 152.9L163.1 149.9M161.4 137.0L161.2 140.6L162.1 144.1L162.8 143.4L161.9 141.1L163.2 144.9L165.0 142.3L167.0 144.0L169.1 141.3L167.5 144.4L168.9 146.0L170.0 143.3L169.2 146.0L170.3 143.1L171.2 142.4L172.3 144.8L172.3 147.2L172.2 149.7L175.7 147.3L175.0 145.5L174.6 145.5L177.0 147.8L178.5 150.8L178.0 150.7L180.8 150.5L181.5 151.6L181.5 151.6M175.1 149.9L178.2 153.2L177.3 156.9L179.8 155.7L178.4 157.1L180.4 159.8L182.3 162.7L184.1 164.2L184.0 164.7L186.6 167.9L186.2 169.7L189.3 170.1L190.8 174.0L190.1 172.2M137.0 137.0L139.6 138.8L142.0 141.0L144.9 139.2L145.1 137.2L145.4 138.9L148.0 138.0L150.2 139.5L152.8 140.4L152.6 138.6L153.4 140.7L155.0 142.0L152.4 143.3L150.7 142.5L151.9 143.7L150.0 145.0L152.8 145.3L153.4 142.8L153.3 145.4L155.5 145.8L158.0 147.0L160.0 145.1L159.1 143.7L160.5 144.8L162.7 144.4L165.0 143.0L167.1 144.6L166.5 142.9L167.6 144.8L169.8 144.7L170.0 142.1L170.3 145.0L172.0 146.0L174.2 147.8L175.8 150.2L177.5 148.1L176.2 150.6L178.0 152.0L179.8 154.4L180.9 157.2L179.1 157.1L181.2 157.7L182.0 160.0L183.5 162.6L184.6 165.4L181.8 166.3L184.9 165.9L186.0 168.0L187.5 170.5L190.0 172.0M247.5 108.8L248.1 111.9L249.9 114.6L251.2 117.5L252.4 119.6L251.4 121.3L252.7 120.2L254.0 121.5L252.2 123.2L254.3 122.0L255.0 123.8L258.8 121.2L259.6 123.6L260.7 125.7L262.3 125.3L261.0 126.2L262.5 127.5L264.9 125.5L263.9 124.3L265.4 125.1L267.5 123.8L269.7 126.0L271.3 124.9L270.2 126.4L272.5 127.5L275.4 126.1L277.7 127.8L275.8 125.8L277.5 123.8L281.2 126.2L283.8 123.8L283.9 126.3L285.1 128.7L288.1 127.5L285.3 129.3L285.5 131.2L288.0 133.7L285.7 136.3L288.4 134.2L289.5 137.0L292.5 133.8L295.5 137.0L300.0 137.0M256.2 125.0L258.8 123.8L261.2 122.5L262.4 124.6L260.9 126.7L262.8 125.1L264.3 126.3L267.0 125.6L264.6 126.9L265.0 128.8L267.7 127.1L270.0 125.0L272.9 126.3L273.3 124.4L273.4 126.7L275.0 128.8L276.9 126.9L278.8 125.0M265.5 411.0L267.5 414.0L266.0 417.0L268.5 419.0L270.0 416.0L268.0 412.0ZM380.5 51.3L382.7 53.5L385.2 51.6L383.0 54.0L383.9 56.4L381.4 59.8L383.5 61.1L385.6 58.5L384.0 61.4L385.6 62.4L383.1 65.8L387.4 67.5L385.6 71.8M389.1 34.2L391.0 36.6L392.5 39.3L389.9 42.7L392.1 44.0L394.2 45.3L393.1 47.5L391.6 49.6L394.1 50.7L394.9 48.4L394.7 50.9L396.8 51.3L394.8 53.5L397.7 54.9L394.5 54.1L394.2 56.4L396.0 58.2L397.7 56.9L396.6 58.5L398.5 59.0M399.3 27.4L399.1 29.9L398.5 32.5L400.0 34.8L398.9 35.8L400.4 35.2L401.9 36.8L401.3 39.4L398.9 39.6L401.1 40.0L400.2 41.9L401.5 44.4L403.6 46.2L402.8 48.7L400.1 49.0L402.6 49.3L401.9 51.3L403.0 54.3L405.3 56.4L403.6 58.7L402.6 57.3L403.3 59.3L402.7 61.5M363.4 93.2L365.6 94.3L367.7 95.7L365.1 99.1L367.5 100.5L370.3 100.9L368.5 104.3M370.3 88.9L372.6 89.8L371.1 90.3L373.1 90.1L374.5 91.5L372.8 95.7L374.9 97.0L376.5 94.9L375.4 97.4L377.1 98.3L375.4 102.6"/>
<path d="M218.5 319.5L220.6 322.3L219.9 327.8L216.5 333.4L212.3 334.8L211.6 332.0L214.4 329.9L216.5 325.7L216.7 320.9ZM600.1 562.6L603.9 561.4L612.6 572.7L611.4 576.4L606.4 572.7L601.4 566.4ZM469.5 253.5L472.9 253.0L474.0 257.7L471.8 261.3L469.5 259.1Z" fill="#000" stroke-width="0.6"/>
</g>
<g id="maplabels" class="cl">
<text transform="translate(532.3 483.3) scale(0.78 1)" font-size="25.6">B</text>
<text transform="translate(511.7 482.5) scale(0.95 1)" font-size="15.0">50</text>
<text transform="translate(541.7 445.0)" font-size="14.0">50</text>
<text transform="translate(310.6 376.1) scale(0.78 1)" font-size="27.6">B</text>
<text transform="translate(338.5 411.6) scale(0.95 1)" font-size="15.4">60</text>
<text transform="translate(292.6 432.4) scale(0.96 1)" font-size="16.0">50</text>
<text transform="translate(245.0 463.3)" font-size="14.0">40</text>
<text transform="translate(253.3 473.5) rotate(8)" font-size="14.0">33</text>
<text transform="translate(222.5 498.5) rotate(-12)" font-size="14.0">33</text>
<text transform="translate(258.5 518.8) scale(0.84 1)" font-size="24.5">A</text>
<text transform="translate(301.0 490.0) scale(0.80 1)" font-size="24.5">N</text>
<text transform="translate(318.8 537.5) rotate(-8)" font-size="14.0">33</text>
<text transform="translate(335.0 533.8)" font-size="14.0">33</text>
<text transform="translate(331.2 466.2) rotate(-8) scale(0.85 1)" font-size="12.0">40</text>
<text transform="translate(340.5 485.0)" font-size="12.0">45</text>
<text transform="translate(352.5 493.8) scale(0.95 1)" font-size="15.5">40</text>
<text transform="translate(356.0 500.0)" font-size="10.5">50</text>
<text transform="translate(385.0 551.2) scale(0.95 1)" font-size="12.0">60</text>
<text transform="translate(404.0 515.0) scale(0.98 1)" font-size="11.0">55</text>
<text transform="translate(404.0 420.0)" font-size="10.5">35</text>
<text transform="translate(445.0 387.5) scale(0.80 1)" font-size="23.3">N</text>
<text transform="translate(465.8 385.8)" font-size="8.0">30</text>
<text transform="translate(476.7 386.7) scale(1.05 1)" font-size="13.0">35</text>
<text transform="translate(534.0 403.3) scale(0.85 1)" font-size="22.0">N</text>
<text transform="translate(567.0 334.0) scale(0.87 1)" font-size="24.5">A</text>
<text transform="translate(552.5 560.0) rotate(-18)" font-size="15.0">40</text>
<text transform="translate(164.5 80.0) scale(0.82 1)" font-size="29.0">A</text>
<text transform="translate(203.3 80.8) scale(0.75 1)" font-size="23.3">N</text>
<text transform="translate(159.0 90.8) scale(1.35 1)" font-size="11.0">33</text>
<text transform="translate(178.0 84.0)" font-size="9.0">5</text>
<text transform="translate(195.8 62.5) scale(1.10 1)" font-size="10.0">35</text>
<text transform="translate(188.0 73.0)" font-size="8.0">0</text>
<text transform="translate(165.0 103.3) scale(1.25 1)" font-size="12.0">33</text>
<text transform="translate(163.0 101.0)" font-size="7.0">10</text>
<text transform="translate(173.3 113.3) scale(1.10 1)" font-size="13.0">40</text>
<text transform="translate(171.7 125.8) scale(1.07 1)" font-size="14.0">50</text>
<text transform="translate(177.5 150.0) scale(0.72 1)" font-size="26.5">B</text>
<text transform="translate(153.3 114.0) scale(0.90 1)" font-size="9.5">15</text>
<text transform="translate(146.7 122.5) scale(1.05 1)" font-size="9.0">20</text>
<text transform="translate(143.3 131.7) scale(1.30 1)" font-size="9.0">25</text>
</g>
<g id="logo">
<defs><clipPath id="cpLogo"><circle cx="41.9" cy="548.1" r="33.2"/></clipPath>
<path id="arcTop" d="M8.72 557.93 A34.60 34.60 0 1 1 75.08 557.93"/>
<path id="arcBot" d="M5.77 565.72 A40.20 40.20 0 0 0 77.72 566.35"/>
</defs>
<g clip-path="url(#cpLogo)">
<rect x="0" y="505" width="90" height="90" fill="#ffffff"/>
<path d="M5.56 537.55L9.04 539.36L16.69 544.51L25.03 551.18L33.38 555.35L41.72 556.75L50.07 555.63L57.02 553.55L61.89 547.98L66.76 540.33L71.63 533.80L77.89 531.99L83.45 548.68L77.89 583.45L41.72 589.01L5.56 583.45L0.00 548.68Z" fill="#1976bd"/>
<path d="M8.34 512.52L77.89 512.52L75.10 523.64L69.12 527.54L65.37 530.88L58.41 539.22L52.16 547.98L46.59 553.27L42.42 554.24L38.25 552.57L31.99 545.90L23.64 536.44L14.60 529.90L8.34 527.82Z" fill="#211c70"/>
<path d="M40.33 555.91L45.90 554.52L52.16 553.55L56.75 553.96L55.63 555.91L48.68 557.30L41.72 559.53L34.77 561.89L31.29 561.20L34.08 559.11Z" fill="#ffffff"/>
</g>
<text font-family="Liberation Sans, sans-serif" font-weight="bold" font-size="12.4" fill="#ffffff" x="27.2" y="536.9" textLength="27.6" lengthAdjust="spacingAndGlyphs">NOAA</text>
<text font-family="Liberation Sans, sans-serif" font-size="5.5" fill="#2a2a2a"><textPath href="#arcTop" textLength="128.1" lengthAdjust="spacingAndGlyphs">NATIONAL OCEANIC AND ATMOSPHERIC ADMINISTRATION</textPath></text>
<text font-family="Liberation Sans, sans-serif" font-size="5.5" fill="#2a2a2a"><textPath href="#arcBot" textLength="88.6" lengthAdjust="spacingAndGlyphs">U.S. DEPARTMENT OF COMMERCE</textPath></text>
</g>
<g id="text">
<text class="mono" x="10.7" y="612.5" font-size="16.6" textLength="165.6" lengthAdjust="spacing" xml:space="preserve">8-14 DAY OUTLOOK</text>
<text class="mono" x="10.7" y="625.7" font-size="16.6" textLength="237.1" lengthAdjust="spacing" xml:space="preserve">TEMPERATURE PROBABILITY</text>
<text class="mono" x="10.7" y="639.2" font-size="16.6" textLength="176.7" lengthAdjust="spacing" xml:space="preserve">MADE  26 FEB 2018</text>
<text class="mono" x="10.7" y="652.6" font-size="16.6" textLength="252.7" lengthAdjust="spacing" xml:space="preserve">VALID  MAR 06 - 12, 2018</text>
<text class="mono" x="399.3" y="623.4" font-size="12.9" textLength="282.3" lengthAdjust="spacing" xml:space="preserve">DASHED BLACK LINES ARE CLIMATOLOGY</text>
<text class="mono" x="399.3" y="634.2" font-size="12.9" textLength="240.5" lengthAdjust="spacing" xml:space="preserve">(DEG F) SHADED AREAS ARE FCST</text>
<text class="mono" x="399.3" y="645.0" font-size="12.9" textLength="298.5" lengthAdjust="spacing" xml:space="preserve">VALUES ABOVE (A) OR BELOW (B) NORMAL</text>
<text class="mono" x="399.3" y="655.9" font-size="12.9" textLength="215.0" lengthAdjust="spacing" xml:space="preserve">GRAY AREAS ARE NEAR-NORMAL</text>
</g>
<g id="legend">
<rect x="1.5" y="671" width="717" height="30.3" fill="#969696"/>
<rect x="2.50" y="671.6" width="46.73" height="29.2" fill="#1e1446"/>
<rect x="50.23" y="671.6" width="46.73" height="29.2" fill="#231751"/>
<rect x="97.97" y="671.6" width="46.73" height="29.2" fill="#2f3f70"/>
<rect x="145.70" y="671.6" width="46.73" height="29.2" fill="#0760a9"/>
<rect x="193.43" y="671.6" width="46.73" height="29.2" fill="#3a9fde"/>
<rect x="241.17" y="671.6" width="46.73" height="29.2" fill="#76b5e2"/>
<rect x="288.90" y="671.6" width="46.73" height="29.2" fill="#a1c2e3"/>
<rect x="336.63" y="671.6" width="46.73" height="29.2" fill="#ababab"/>
<rect x="384.37" y="671.6" width="46.73" height="29.2" fill="#e9b263"/>
<rect x="432.10" y="671.6" width="46.73" height="29.2" fill="#e68d3d"/>
<rect x="479.83" y="671.6" width="46.73" height="29.2" fill="#dd5830"/>
<rect x="527.57" y="671.6" width="46.73" height="29.2" fill="#c72f29"/>
<rect x="575.30" y="671.6" width="46.73" height="29.2" fill="#cd2f49"/>
<rect x="623.03" y="671.6" width="46.73" height="29.2" fill="#892e3b"/>
<rect x="670.77" y="671.6" width="46.73" height="29.2" fill="#63222a"/>
<text class="lbl" x="52.1" y="716.8" font-size="13.4" text-anchor="middle">90%</text>
<text class="lbl" x="99.9" y="716.8" font-size="13.4" text-anchor="middle">80%</text>
<text class="lbl" x="147.6" y="716.8" font-size="13.4" text-anchor="middle">70%</text>
<text class="lbl" x="195.3" y="716.8" font-size="13.4" text-anchor="middle">60%</text>
<text class="lbl" x="243.1" y="716.8" font-size="13.4" text-anchor="middle">50%</text>
<text class="lbl" x="290.8" y="716.8" font-size="13.4" text-anchor="middle">40%</text>
<text class="lbl" x="338.5" y="716.8" font-size="13.4" text-anchor="middle">33%</text>
<text class="lbl" x="386.3" y="716.8" font-size="13.4" text-anchor="middle">33%</text>
<text class="lbl" x="434.0" y="716.8" font-size="13.4" text-anchor="middle">40%</text>
<text class="lbl" x="481.7" y="716.8" font-size="13.4" text-anchor="middle">50%</text>
<text class="lbl" x="529.5" y="716.8" font-size="13.4" text-anchor="middle">60%</text>
<text class="lbl" x="577.2" y="716.8" font-size="13.4" text-anchor="middle">70%</text>
<text class="lbl" x="624.9" y="716.8" font-size="13.4" text-anchor="middle">80%</text>
<text class="lbl" x="672.7" y="716.8" font-size="13.4" text-anchor="middle">90%</text>
<text class="lbl" x="172.6" y="743" font-size="12.6" font-weight="bold" text-anchor="middle" textLength="120" lengthAdjust="spacingAndGlyphs">Probability of Below</text>
<text class="lbl" x="553" y="743" font-size="12.6" font-weight="bold" text-anchor="middle" textLength="121" lengthAdjust="spacingAndGlyphs">Probability of Above</text>
<text class="lbl" x="362.3" y="740.5" font-size="9.4" font-weight="bold" text-anchor="middle" textLength="32.5" lengthAdjust="spacingAndGlyphs">Normal</text>
<path d="M337.8 726V756M386.2 726V756" stroke="#222" stroke-width="1.1" stroke-dasharray="3 1.6" fill="none"/>
</g>
</svg>
</body>
</html>
